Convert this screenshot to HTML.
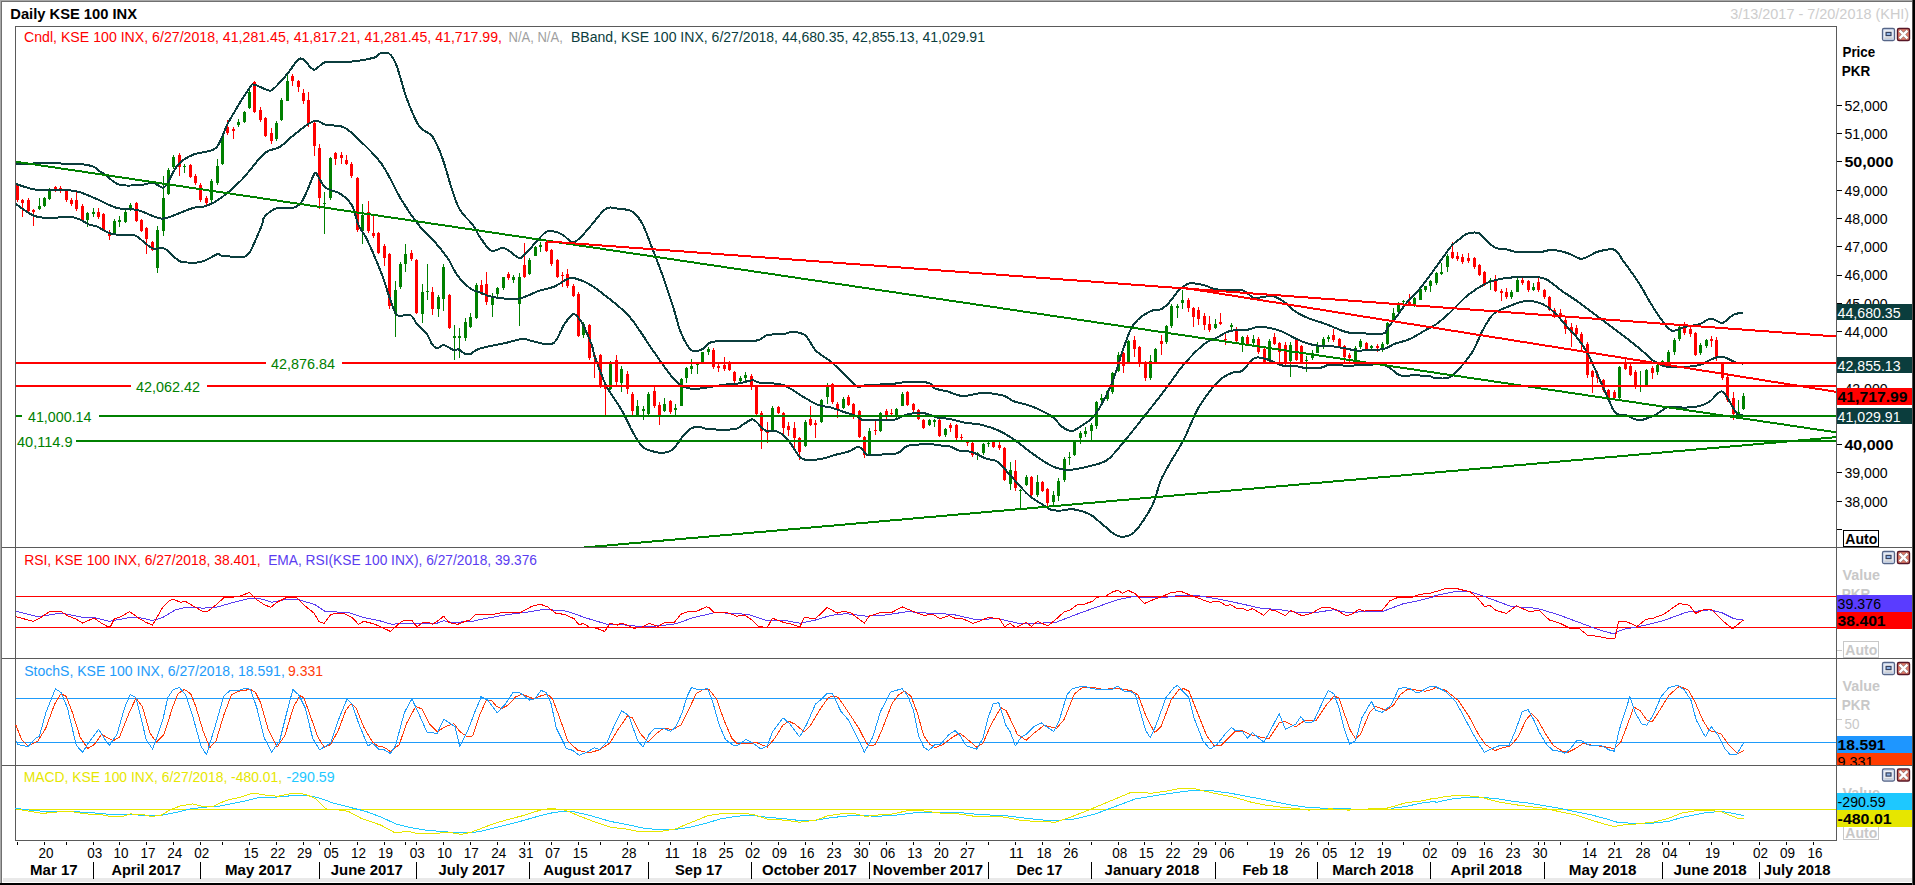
<!DOCTYPE html><html><head><meta charset="utf-8"><title>Daily KSE 100 INX</title><style>html,body{margin:0;padding:0;background:#fff;overflow:hidden}svg{display:block}</style></head><body><svg width="1915" height="885" viewBox="0 0 1915 885" font-family='"Liberation Sans", sans-serif' shape-rendering="auto">
<rect x="0" y="0" width="1915" height="885" fill="#fff" />
<rect x="0" y="0" width="1915" height="1" fill="#a8a8a8" />
<rect x="0" y="1" width="1915" height="1" fill="#707070" />
<rect x="0" y="0" width="1" height="885" fill="#a8a8a8" />
<rect x="1" y="1" width="1" height="885" fill="#707070" />
<rect x="3" y="878" width="1909" height="4" fill="#e9e9e9" />
<rect x="0" y="883" width="1915" height="2" fill="#000" />
<rect x="1912" y="0" width="1" height="885" fill="#505050" />
<rect x="1913" y="0" width="2" height="885" fill="#000" />
<defs><clipPath id="cm"><rect x="16" y="27" width="1820" height="520"/></clipPath><clipPath id="cs"><rect x="1837" y="658" width="75" height="107"/></clipPath></defs>
<g clip-path="url(#cm)">
<g shape-rendering="crispEdges">
<rect x="17" y="184" width="1" height="18" fill="#ff0000" />
<rect x="16" y="185" width="3" height="15" fill="#ff0000" />
<rect x="22" y="199" width="1" height="18" fill="#ff0000" />
<rect x="21" y="200" width="3" height="3" fill="#ff0000" />
<rect x="28" y="198" width="1" height="14" fill="#ff0000" />
<rect x="27" y="200" width="3" height="11" fill="#ff0000" />
<rect x="33" y="209" width="1" height="17" fill="#ff0000" />
<rect x="32" y="210" width="3" height="2" fill="#ff0000" />
<rect x="39" y="198" width="1" height="12" fill="#008000" />
<rect x="38" y="206" width="3" height="3" fill="#008000" />
<rect x="44" y="197" width="1" height="10" fill="#008000" />
<rect x="43" y="198" width="3" height="8" fill="#008000" />
<rect x="49" y="188" width="1" height="12" fill="#008000" />
<rect x="48" y="190" width="3" height="9" fill="#008000" />
<rect x="55" y="186" width="1" height="6" fill="#ff0000" />
<rect x="54" y="187" width="3" height="3" fill="#ff0000" />
<rect x="60" y="186" width="1" height="7" fill="#ff0000" />
<rect x="59" y="188" width="3" height="2" fill="#ff0000" />
<rect x="66" y="189" width="1" height="13" fill="#ff0000" />
<rect x="65" y="190" width="3" height="10" fill="#ff0000" />
<rect x="71" y="198" width="1" height="8" fill="#ff0000" />
<rect x="70" y="200" width="3" height="4" fill="#ff0000" />
<rect x="76" y="192" width="1" height="19" fill="#ff0000" />
<rect x="75" y="200" width="3" height="9" fill="#ff0000" />
<rect x="82" y="204" width="1" height="18" fill="#ff0000" />
<rect x="81" y="206" width="3" height="15" fill="#ff0000" />
<rect x="87" y="212" width="1" height="15" fill="#008000" />
<rect x="86" y="213" width="3" height="7" fill="#008000" />
<rect x="93" y="208" width="1" height="9" fill="#008000" />
<rect x="92" y="212" width="3" height="2" fill="#008000" />
<rect x="98" y="208" width="1" height="11" fill="#ff0000" />
<rect x="97" y="212" width="3" height="5" fill="#ff0000" />
<rect x="103" y="213" width="1" height="18" fill="#ff0000" />
<rect x="102" y="214" width="3" height="16" fill="#ff0000" />
<rect x="109" y="230" width="1" height="10" fill="#ff0000" />
<rect x="108" y="233" width="3" height="3" fill="#ff0000" />
<rect x="114" y="219" width="1" height="16" fill="#008000" />
<rect x="113" y="221" width="3" height="12" fill="#008000" />
<rect x="119" y="216" width="1" height="11" fill="#008000" />
<rect x="118" y="220" width="3" height="2" fill="#008000" />
<rect x="125" y="210" width="1" height="13" fill="#008000" />
<rect x="124" y="212" width="3" height="10" fill="#008000" />
<rect x="130" y="203" width="1" height="8" fill="#008000" />
<rect x="129" y="205" width="3" height="4" fill="#008000" />
<rect x="136" y="202" width="1" height="20" fill="#ff0000" />
<rect x="135" y="203" width="3" height="18" fill="#ff0000" />
<rect x="141" y="219" width="1" height="13" fill="#ff0000" />
<rect x="140" y="220" width="3" height="11" fill="#ff0000" />
<rect x="146" y="227" width="1" height="27" fill="#ff0000" />
<rect x="145" y="228" width="3" height="11" fill="#ff0000" />
<rect x="152" y="241" width="1" height="10" fill="#ff0000" />
<rect x="151" y="242" width="3" height="8" fill="#ff0000" />
<rect x="157" y="226" width="1" height="47" fill="#008000" />
<rect x="156" y="230" width="3" height="38" fill="#008000" />
<rect x="163" y="176" width="1" height="60" fill="#008000" />
<rect x="162" y="198" width="3" height="33" fill="#008000" />
<rect x="168" y="168" width="1" height="27" fill="#008000" />
<rect x="167" y="170" width="3" height="24" fill="#008000" />
<rect x="173" y="155" width="1" height="14" fill="#008000" />
<rect x="172" y="157" width="3" height="10" fill="#008000" />
<rect x="179" y="153" width="1" height="23" fill="#ff0000" />
<rect x="178" y="155" width="3" height="12" fill="#ff0000" />
<rect x="184" y="164" width="1" height="9" fill="#008000" />
<rect x="183" y="166" width="3" height="1" fill="#008000" />
<rect x="190" y="164" width="1" height="14" fill="#ff0000" />
<rect x="189" y="165" width="3" height="12" fill="#ff0000" />
<rect x="195" y="174" width="1" height="11" fill="#ff0000" />
<rect x="194" y="176" width="3" height="7" fill="#ff0000" />
<rect x="200" y="183" width="1" height="19" fill="#ff0000" />
<rect x="199" y="185" width="3" height="15" fill="#ff0000" />
<rect x="206" y="196" width="1" height="10" fill="#ff0000" />
<rect x="205" y="198" width="3" height="5" fill="#ff0000" />
<rect x="211" y="179" width="1" height="23" fill="#008000" />
<rect x="210" y="181" width="3" height="19" fill="#008000" />
<rect x="217" y="159" width="1" height="26" fill="#008000" />
<rect x="216" y="166" width="3" height="17" fill="#008000" />
<rect x="222" y="134" width="1" height="31" fill="#008000" />
<rect x="221" y="136" width="3" height="28" fill="#008000" />
<rect x="227" y="120" width="1" height="15" fill="#ff0000" />
<rect x="226" y="127" width="3" height="6" fill="#ff0000" />
<rect x="233" y="127" width="1" height="12" fill="#ff0000" />
<rect x="232" y="129" width="3" height="2" fill="#ff0000" />
<rect x="238" y="119" width="1" height="8" fill="#008000" />
<rect x="237" y="122" width="3" height="3" fill="#008000" />
<rect x="244" y="111" width="1" height="12" fill="#008000" />
<rect x="243" y="112" width="3" height="10" fill="#008000" />
<rect x="249" y="87" width="1" height="22" fill="#008000" />
<rect x="248" y="92" width="3" height="16" fill="#008000" />
<rect x="254" y="81" width="1" height="32" fill="#ff0000" />
<rect x="253" y="82" width="3" height="30" fill="#ff0000" />
<rect x="260" y="107" width="1" height="15" fill="#ff0000" />
<rect x="259" y="110" width="3" height="10" fill="#ff0000" />
<rect x="265" y="117" width="1" height="20" fill="#ff0000" />
<rect x="264" y="118" width="3" height="18" fill="#ff0000" />
<rect x="271" y="128" width="1" height="16" fill="#ff0000" />
<rect x="270" y="133" width="3" height="8" fill="#ff0000" />
<rect x="276" y="121" width="1" height="20" fill="#008000" />
<rect x="275" y="123" width="3" height="16" fill="#008000" />
<rect x="281" y="98" width="1" height="23" fill="#008000" />
<rect x="280" y="100" width="3" height="20" fill="#008000" />
<rect x="287" y="74" width="1" height="27" fill="#008000" />
<rect x="286" y="81" width="3" height="20" fill="#008000" />
<rect x="292" y="74" width="1" height="12" fill="#ff0000" />
<rect x="291" y="76" width="3" height="5" fill="#ff0000" />
<rect x="298" y="80" width="1" height="12" fill="#ff0000" />
<rect x="297" y="81" width="3" height="6" fill="#ff0000" />
<rect x="303" y="89" width="1" height="15" fill="#ff0000" />
<rect x="302" y="93" width="3" height="8" fill="#ff0000" />
<rect x="308" y="92" width="1" height="35" fill="#ff0000" />
<rect x="307" y="100" width="3" height="23" fill="#ff0000" />
<rect x="314" y="120" width="1" height="36" fill="#ff0000" />
<rect x="313" y="123" width="3" height="23" fill="#ff0000" />
<rect x="319" y="144" width="1" height="65" fill="#ff0000" />
<rect x="318" y="148" width="3" height="50" fill="#ff0000" />
<rect x="324" y="192" width="1" height="42" fill="#008000" />
<rect x="323" y="203" width="3" height="1" fill="#008000" />
<rect x="330" y="157" width="1" height="43" fill="#008000" />
<rect x="329" y="158" width="3" height="40" fill="#008000" />
<rect x="335" y="152" width="1" height="13" fill="#ff0000" />
<rect x="334" y="153" width="3" height="6" fill="#ff0000" />
<rect x="341" y="152" width="1" height="12" fill="#ff0000" />
<rect x="340" y="155" width="3" height="3" fill="#ff0000" />
<rect x="346" y="155" width="1" height="10" fill="#ff0000" />
<rect x="345" y="160" width="3" height="4" fill="#ff0000" />
<rect x="351" y="162" width="1" height="16" fill="#ff0000" />
<rect x="350" y="164" width="3" height="12" fill="#ff0000" />
<rect x="357" y="177" width="1" height="55" fill="#ff0000" />
<rect x="356" y="178" width="3" height="52" fill="#ff0000" />
<rect x="362" y="204" width="1" height="40" fill="#008000" />
<rect x="361" y="215" width="3" height="16" fill="#008000" />
<rect x="368" y="201" width="1" height="32" fill="#ff0000" />
<rect x="367" y="212" width="3" height="19" fill="#ff0000" />
<rect x="373" y="216" width="1" height="22" fill="#ff0000" />
<rect x="372" y="233" width="3" height="3" fill="#ff0000" />
<rect x="378" y="232" width="1" height="22" fill="#ff0000" />
<rect x="377" y="233" width="3" height="20" fill="#ff0000" />
<rect x="384" y="244" width="1" height="22" fill="#ff0000" />
<rect x="383" y="246" width="3" height="12" fill="#ff0000" />
<rect x="389" y="253" width="1" height="56" fill="#ff0000" />
<rect x="388" y="254" width="3" height="52" fill="#ff0000" />
<rect x="395" y="281" width="1" height="56" fill="#008000" />
<rect x="394" y="290" width="3" height="24" fill="#008000" />
<rect x="400" y="262" width="1" height="27" fill="#008000" />
<rect x="399" y="264" width="3" height="23" fill="#008000" />
<rect x="405" y="244" width="1" height="28" fill="#008000" />
<rect x="404" y="254" width="3" height="10" fill="#008000" />
<rect x="411" y="250" width="1" height="11" fill="#ff0000" />
<rect x="410" y="253" width="3" height="6" fill="#ff0000" />
<rect x="416" y="259" width="1" height="55" fill="#ff0000" />
<rect x="415" y="260" width="3" height="53" fill="#ff0000" />
<rect x="422" y="284" width="1" height="39" fill="#008000" />
<rect x="421" y="292" width="3" height="22" fill="#008000" />
<rect x="427" y="264" width="1" height="36" fill="#008000" />
<rect x="426" y="291" width="3" height="1" fill="#008000" />
<rect x="432" y="287" width="1" height="28" fill="#ff0000" />
<rect x="431" y="292" width="3" height="17" fill="#ff0000" />
<rect x="438" y="295" width="1" height="22" fill="#008000" />
<rect x="437" y="297" width="3" height="12" fill="#008000" />
<rect x="443" y="264" width="1" height="47" fill="#008000" />
<rect x="442" y="267" width="3" height="32" fill="#008000" />
<rect x="449" y="294" width="1" height="35" fill="#ff0000" />
<rect x="448" y="295" width="3" height="33" fill="#ff0000" />
<rect x="454" y="325" width="1" height="35" fill="#008000" />
<rect x="453" y="336" width="3" height="2" fill="#008000" />
<rect x="459" y="328" width="1" height="30" fill="#008000" />
<rect x="458" y="336" width="3" height="2" fill="#008000" />
<rect x="465" y="318" width="1" height="23" fill="#008000" />
<rect x="464" y="322" width="3" height="16" fill="#008000" />
<rect x="470" y="313" width="1" height="15" fill="#008000" />
<rect x="469" y="317" width="3" height="10" fill="#008000" />
<rect x="476" y="283" width="1" height="36" fill="#008000" />
<rect x="475" y="285" width="3" height="33" fill="#008000" />
<rect x="481" y="280" width="1" height="15" fill="#ff0000" />
<rect x="480" y="285" width="3" height="9" fill="#ff0000" />
<rect x="486" y="272" width="1" height="33" fill="#ff0000" />
<rect x="485" y="284" width="3" height="18" fill="#ff0000" />
<rect x="492" y="293" width="1" height="24" fill="#008000" />
<rect x="491" y="296" width="3" height="9" fill="#008000" />
<rect x="497" y="287" width="1" height="10" fill="#008000" />
<rect x="496" y="288" width="3" height="6" fill="#008000" />
<rect x="503" y="277" width="1" height="13" fill="#008000" />
<rect x="502" y="277" width="3" height="11" fill="#008000" />
<rect x="508" y="272" width="1" height="8" fill="#ff0000" />
<rect x="507" y="274" width="3" height="4" fill="#ff0000" />
<rect x="513" y="275" width="1" height="8" fill="#008000" />
<rect x="512" y="277" width="3" height="3" fill="#008000" />
<rect x="519" y="273" width="1" height="53" fill="#008000" />
<rect x="518" y="277" width="3" height="27" fill="#008000" />
<rect x="524" y="243" width="1" height="35" fill="#ff0000" />
<rect x="523" y="265" width="3" height="12" fill="#ff0000" />
<rect x="529" y="258" width="1" height="17" fill="#008000" />
<rect x="528" y="260" width="3" height="14" fill="#008000" />
<rect x="535" y="246" width="1" height="10" fill="#008000" />
<rect x="534" y="247" width="3" height="9" fill="#008000" />
<rect x="540" y="242" width="1" height="10" fill="#008000" />
<rect x="539" y="245" width="3" height="2" fill="#008000" />
<rect x="546" y="241" width="1" height="11" fill="#ff0000" />
<rect x="545" y="242" width="3" height="9" fill="#ff0000" />
<rect x="551" y="249" width="1" height="17" fill="#ff0000" />
<rect x="550" y="250" width="3" height="14" fill="#ff0000" />
<rect x="557" y="259" width="1" height="19" fill="#ff0000" />
<rect x="556" y="260" width="3" height="17" fill="#ff0000" />
<rect x="562" y="272" width="1" height="15" fill="#ff0000" />
<rect x="561" y="275" width="3" height="1" fill="#ff0000" />
<rect x="567" y="269" width="1" height="19" fill="#ff0000" />
<rect x="566" y="274" width="3" height="12" fill="#ff0000" />
<rect x="573" y="284" width="1" height="13" fill="#ff0000" />
<rect x="572" y="286" width="3" height="10" fill="#ff0000" />
<rect x="578" y="292" width="1" height="45" fill="#ff0000" />
<rect x="577" y="294" width="3" height="42" fill="#ff0000" />
<rect x="583" y="322" width="1" height="16" fill="#008000" />
<rect x="582" y="324" width="3" height="11" fill="#008000" />
<rect x="589" y="324" width="1" height="36" fill="#ff0000" />
<rect x="588" y="325" width="3" height="33" fill="#ff0000" />
<rect x="594" y="355" width="1" height="23" fill="#ff0000" />
<rect x="593" y="355" width="3" height="2" fill="#ff0000" />
<rect x="600" y="354" width="1" height="34" fill="#ff0000" />
<rect x="599" y="355" width="3" height="32" fill="#ff0000" />
<rect x="605" y="386" width="1" height="29" fill="#ff0000" />
<rect x="604" y="387" width="3" height="2" fill="#ff0000" />
<rect x="610" y="361" width="1" height="29" fill="#008000" />
<rect x="609" y="362" width="3" height="27" fill="#008000" />
<rect x="616" y="355" width="1" height="30" fill="#ff0000" />
<rect x="615" y="360" width="3" height="22" fill="#ff0000" />
<rect x="621" y="366" width="1" height="26" fill="#008000" />
<rect x="620" y="369" width="3" height="14" fill="#008000" />
<rect x="627" y="371" width="1" height="23" fill="#ff0000" />
<rect x="626" y="374" width="3" height="15" fill="#ff0000" />
<rect x="632" y="392" width="1" height="23" fill="#ff0000" />
<rect x="631" y="394" width="3" height="17" fill="#ff0000" />
<rect x="637" y="400" width="1" height="16" fill="#008000" />
<rect x="636" y="406" width="3" height="9" fill="#008000" />
<rect x="643" y="406" width="1" height="14" fill="#008000" />
<rect x="642" y="409" width="3" height="2" fill="#008000" />
<rect x="648" y="392" width="1" height="23" fill="#008000" />
<rect x="647" y="394" width="3" height="20" fill="#008000" />
<rect x="654" y="386" width="1" height="22" fill="#ff0000" />
<rect x="653" y="391" width="3" height="15" fill="#ff0000" />
<rect x="659" y="402" width="1" height="23" fill="#ff0000" />
<rect x="658" y="405" width="3" height="11" fill="#ff0000" />
<rect x="664" y="398" width="1" height="14" fill="#008000" />
<rect x="663" y="404" width="3" height="7" fill="#008000" />
<rect x="670" y="400" width="1" height="14" fill="#ff0000" />
<rect x="669" y="401" width="3" height="11" fill="#ff0000" />
<rect x="675" y="404" width="1" height="11" fill="#008000" />
<rect x="674" y="408" width="3" height="2" fill="#008000" />
<rect x="681" y="378" width="1" height="28" fill="#008000" />
<rect x="680" y="379" width="3" height="27" fill="#008000" />
<rect x="686" y="367" width="1" height="16" fill="#008000" />
<rect x="685" y="368" width="3" height="10" fill="#008000" />
<rect x="691" y="359" width="1" height="15" fill="#008000" />
<rect x="690" y="366" width="3" height="3" fill="#008000" />
<rect x="697" y="363" width="1" height="11" fill="#008000" />
<rect x="696" y="364" width="3" height="1" fill="#008000" />
<rect x="702" y="352" width="1" height="11" fill="#008000" />
<rect x="701" y="352" width="3" height="10" fill="#008000" />
<rect x="708" y="347" width="1" height="8" fill="#008000" />
<rect x="707" y="349" width="3" height="3" fill="#008000" />
<rect x="713" y="348" width="1" height="21" fill="#ff0000" />
<rect x="712" y="350" width="3" height="17" fill="#ff0000" />
<rect x="718" y="364" width="1" height="8" fill="#ff0000" />
<rect x="717" y="366" width="3" height="2" fill="#ff0000" />
<rect x="724" y="357" width="1" height="14" fill="#ff0000" />
<rect x="723" y="365" width="3" height="4" fill="#ff0000" />
<rect x="729" y="361" width="1" height="10" fill="#ff0000" />
<rect x="728" y="362" width="3" height="8" fill="#ff0000" />
<rect x="734" y="371" width="1" height="12" fill="#ff0000" />
<rect x="733" y="372" width="3" height="9" fill="#ff0000" />
<rect x="740" y="376" width="1" height="6" fill="#008000" />
<rect x="739" y="378" width="3" height="3" fill="#008000" />
<rect x="745" y="372" width="1" height="9" fill="#008000" />
<rect x="744" y="375" width="3" height="3" fill="#008000" />
<rect x="751" y="374" width="1" height="16" fill="#ff0000" />
<rect x="750" y="376" width="3" height="11" fill="#ff0000" />
<rect x="756" y="385" width="1" height="30" fill="#ff0000" />
<rect x="755" y="386" width="3" height="28" fill="#ff0000" />
<rect x="761" y="411" width="1" height="38" fill="#ff0000" />
<rect x="760" y="413" width="3" height="18" fill="#ff0000" />
<rect x="767" y="422" width="1" height="21" fill="#ff0000" />
<rect x="766" y="432" width="3" height="1" fill="#ff0000" />
<rect x="772" y="406" width="1" height="26" fill="#008000" />
<rect x="771" y="408" width="3" height="23" fill="#008000" />
<rect x="778" y="406" width="1" height="8" fill="#ff0000" />
<rect x="777" y="407" width="3" height="6" fill="#ff0000" />
<rect x="783" y="412" width="1" height="22" fill="#ff0000" />
<rect x="782" y="413" width="3" height="15" fill="#ff0000" />
<rect x="788" y="422" width="1" height="14" fill="#ff0000" />
<rect x="787" y="426" width="3" height="4" fill="#ff0000" />
<rect x="794" y="422" width="1" height="29" fill="#ff0000" />
<rect x="793" y="428" width="3" height="10" fill="#ff0000" />
<rect x="799" y="437" width="1" height="23" fill="#ff0000" />
<rect x="798" y="438" width="3" height="14" fill="#ff0000" />
<rect x="805" y="420" width="1" height="27" fill="#008000" />
<rect x="804" y="422" width="3" height="24" fill="#008000" />
<rect x="810" y="406" width="1" height="20" fill="#ff0000" />
<rect x="809" y="419" width="3" height="6" fill="#ff0000" />
<rect x="815" y="420" width="1" height="18" fill="#ff0000" />
<rect x="814" y="423" width="3" height="2" fill="#ff0000" />
<rect x="821" y="399" width="1" height="24" fill="#008000" />
<rect x="820" y="400" width="3" height="22" fill="#008000" />
<rect x="827" y="383" width="1" height="21" fill="#008000" />
<rect x="826" y="386" width="3" height="11" fill="#008000" />
<rect x="832" y="383" width="1" height="21" fill="#ff0000" />
<rect x="831" y="384" width="3" height="18" fill="#ff0000" />
<rect x="837" y="402" width="1" height="16" fill="#ff0000" />
<rect x="836" y="404" width="3" height="5" fill="#ff0000" />
<rect x="843" y="397" width="1" height="12" fill="#008000" />
<rect x="842" y="399" width="3" height="9" fill="#008000" />
<rect x="848" y="395" width="1" height="11" fill="#ff0000" />
<rect x="847" y="397" width="3" height="8" fill="#ff0000" />
<rect x="853" y="403" width="1" height="16" fill="#ff0000" />
<rect x="852" y="404" width="3" height="10" fill="#ff0000" />
<rect x="859" y="410" width="1" height="28" fill="#ff0000" />
<rect x="858" y="411" width="3" height="26" fill="#ff0000" />
<rect x="864" y="436" width="1" height="22" fill="#ff0000" />
<rect x="863" y="437" width="3" height="18" fill="#ff0000" />
<rect x="869" y="428" width="1" height="27" fill="#008000" />
<rect x="868" y="431" width="3" height="23" fill="#008000" />
<rect x="875" y="420" width="1" height="15" fill="#ff0000" />
<rect x="874" y="430" width="3" height="1" fill="#ff0000" />
<rect x="880" y="412" width="1" height="20" fill="#008000" />
<rect x="879" y="413" width="3" height="18" fill="#008000" />
<rect x="886" y="409" width="1" height="10" fill="#ff0000" />
<rect x="885" y="411" width="3" height="4" fill="#ff0000" />
<rect x="891" y="409" width="1" height="7" fill="#ff0000" />
<rect x="890" y="413" width="3" height="1" fill="#ff0000" />
<rect x="896" y="408" width="1" height="10" fill="#008000" />
<rect x="895" y="409" width="3" height="7" fill="#008000" />
<rect x="902" y="392" width="1" height="14" fill="#008000" />
<rect x="901" y="394" width="3" height="12" fill="#008000" />
<rect x="907" y="391" width="1" height="15" fill="#ff0000" />
<rect x="906" y="392" width="3" height="13" fill="#ff0000" />
<rect x="913" y="403" width="1" height="10" fill="#ff0000" />
<rect x="912" y="404" width="3" height="6" fill="#ff0000" />
<rect x="918" y="409" width="1" height="11" fill="#ff0000" />
<rect x="917" y="410" width="3" height="9" fill="#ff0000" />
<rect x="923" y="419" width="1" height="10" fill="#ff0000" />
<rect x="922" y="420" width="3" height="8" fill="#ff0000" />
<rect x="929" y="419" width="1" height="7" fill="#008000" />
<rect x="928" y="420" width="3" height="5" fill="#008000" />
<rect x="934" y="419" width="1" height="8" fill="#008000" />
<rect x="933" y="420" width="3" height="2" fill="#008000" />
<rect x="939" y="419" width="1" height="18" fill="#ff0000" />
<rect x="938" y="420" width="3" height="16" fill="#ff0000" />
<rect x="945" y="428" width="1" height="9" fill="#008000" />
<rect x="944" y="429" width="3" height="6" fill="#008000" />
<rect x="950" y="423" width="1" height="9" fill="#ff0000" />
<rect x="949" y="425" width="3" height="3" fill="#ff0000" />
<rect x="956" y="424" width="1" height="16" fill="#ff0000" />
<rect x="955" y="425" width="3" height="13" fill="#ff0000" />
<rect x="961" y="434" width="1" height="8" fill="#ff0000" />
<rect x="960" y="437" width="3" height="1" fill="#ff0000" />
<rect x="967" y="441" width="1" height="5" fill="#ff0000" />
<rect x="966" y="442" width="3" height="1" fill="#ff0000" />
<rect x="972" y="442" width="1" height="15" fill="#ff0000" />
<rect x="971" y="443" width="3" height="12" fill="#ff0000" />
<rect x="977" y="452" width="1" height="8" fill="#008000" />
<rect x="976" y="453" width="3" height="2" fill="#008000" />
<rect x="983" y="443" width="1" height="12" fill="#008000" />
<rect x="982" y="444" width="3" height="9" fill="#008000" />
<rect x="988" y="441" width="1" height="6" fill="#008000" />
<rect x="987" y="443" width="3" height="1" fill="#008000" />
<rect x="993" y="441" width="1" height="7" fill="#ff0000" />
<rect x="992" y="442" width="3" height="5" fill="#ff0000" />
<rect x="999" y="442" width="1" height="8" fill="#ff0000" />
<rect x="998" y="445" width="3" height="3" fill="#ff0000" />
<rect x="1004" y="447" width="1" height="34" fill="#ff0000" />
<rect x="1003" y="448" width="3" height="32" fill="#ff0000" />
<rect x="1010" y="462" width="1" height="28" fill="#008000" />
<rect x="1009" y="470" width="3" height="14" fill="#008000" />
<rect x="1015" y="460" width="1" height="31" fill="#ff0000" />
<rect x="1014" y="471" width="3" height="17" fill="#ff0000" />
<rect x="1020" y="489" width="1" height="19" fill="#008000" />
<rect x="1019" y="490" width="3" height="1" fill="#008000" />
<rect x="1026" y="475" width="1" height="11" fill="#008000" />
<rect x="1025" y="477" width="3" height="8" fill="#008000" />
<rect x="1031" y="476" width="1" height="20" fill="#ff0000" />
<rect x="1030" y="477" width="3" height="18" fill="#ff0000" />
<rect x="1037" y="475" width="1" height="22" fill="#008000" />
<rect x="1036" y="482" width="3" height="13" fill="#008000" />
<rect x="1042" y="481" width="1" height="11" fill="#ff0000" />
<rect x="1041" y="482" width="3" height="9" fill="#ff0000" />
<rect x="1047" y="488" width="1" height="18" fill="#ff0000" />
<rect x="1046" y="489" width="3" height="14" fill="#ff0000" />
<rect x="1053" y="491" width="1" height="14" fill="#008000" />
<rect x="1052" y="495" width="3" height="7" fill="#008000" />
<rect x="1058" y="478" width="1" height="23" fill="#008000" />
<rect x="1057" y="481" width="3" height="15" fill="#008000" />
<rect x="1064" y="457" width="1" height="25" fill="#008000" />
<rect x="1063" y="459" width="3" height="21" fill="#008000" />
<rect x="1069" y="452" width="1" height="13" fill="#008000" />
<rect x="1068" y="457" width="3" height="1" fill="#008000" />
<rect x="1074" y="441" width="1" height="15" fill="#008000" />
<rect x="1073" y="442" width="3" height="13" fill="#008000" />
<rect x="1080" y="431" width="1" height="13" fill="#008000" />
<rect x="1079" y="433" width="3" height="5" fill="#008000" />
<rect x="1085" y="427" width="1" height="10" fill="#008000" />
<rect x="1084" y="431" width="3" height="3" fill="#008000" />
<rect x="1091" y="423" width="1" height="17" fill="#008000" />
<rect x="1090" y="425" width="3" height="6" fill="#008000" />
<rect x="1096" y="401" width="1" height="28" fill="#008000" />
<rect x="1095" y="402" width="3" height="24" fill="#008000" />
<rect x="1101" y="394" width="1" height="12" fill="#008000" />
<rect x="1100" y="398" width="3" height="2" fill="#008000" />
<rect x="1107" y="390" width="1" height="11" fill="#008000" />
<rect x="1106" y="391" width="3" height="8" fill="#008000" />
<rect x="1112" y="372" width="1" height="22" fill="#008000" />
<rect x="1111" y="373" width="3" height="19" fill="#008000" />
<rect x="1118" y="352" width="1" height="20" fill="#008000" />
<rect x="1117" y="355" width="3" height="16" fill="#008000" />
<rect x="1123" y="352" width="1" height="21" fill="#ff0000" />
<rect x="1122" y="353" width="3" height="13" fill="#ff0000" />
<rect x="1128" y="340" width="1" height="23" fill="#008000" />
<rect x="1127" y="341" width="3" height="21" fill="#008000" />
<rect x="1134" y="336" width="1" height="21" fill="#ff0000" />
<rect x="1133" y="340" width="3" height="9" fill="#ff0000" />
<rect x="1139" y="346" width="1" height="21" fill="#ff0000" />
<rect x="1138" y="347" width="3" height="17" fill="#ff0000" />
<rect x="1145" y="361" width="1" height="20" fill="#ff0000" />
<rect x="1144" y="362" width="3" height="16" fill="#ff0000" />
<rect x="1150" y="355" width="1" height="25" fill="#008000" />
<rect x="1149" y="361" width="3" height="17" fill="#008000" />
<rect x="1155" y="348" width="1" height="15" fill="#008000" />
<rect x="1154" y="349" width="3" height="13" fill="#008000" />
<rect x="1161" y="335" width="1" height="20" fill="#ff0000" />
<rect x="1160" y="341" width="3" height="3" fill="#ff0000" />
<rect x="1166" y="325" width="1" height="19" fill="#008000" />
<rect x="1165" y="326" width="3" height="16" fill="#008000" />
<rect x="1171" y="304" width="1" height="24" fill="#008000" />
<rect x="1170" y="306" width="3" height="20" fill="#008000" />
<rect x="1177" y="304" width="1" height="14" fill="#008000" />
<rect x="1176" y="306" width="3" height="2" fill="#008000" />
<rect x="1182" y="290" width="1" height="19" fill="#008000" />
<rect x="1181" y="300" width="3" height="3" fill="#008000" />
<rect x="1188" y="298" width="1" height="14" fill="#ff0000" />
<rect x="1187" y="300" width="3" height="8" fill="#ff0000" />
<rect x="1193" y="307" width="1" height="20" fill="#ff0000" />
<rect x="1192" y="308" width="3" height="9" fill="#ff0000" />
<rect x="1198" y="307" width="1" height="18" fill="#ff0000" />
<rect x="1197" y="310" width="3" height="9" fill="#ff0000" />
<rect x="1204" y="313" width="1" height="17" fill="#ff0000" />
<rect x="1203" y="316" width="3" height="9" fill="#ff0000" />
<rect x="1209" y="316" width="1" height="16" fill="#ff0000" />
<rect x="1208" y="324" width="3" height="6" fill="#ff0000" />
<rect x="1215" y="319" width="1" height="10" fill="#008000" />
<rect x="1214" y="324" width="3" height="4" fill="#008000" />
<rect x="1220" y="313" width="1" height="12" fill="#ff0000" />
<rect x="1219" y="322" width="3" height="2" fill="#ff0000" />
<rect x="1225" y="333" width="1" height="12" fill="#ff0000" />
<rect x="1224" y="339" width="3" height="1" fill="#ff0000" />
<rect x="1231" y="323" width="1" height="7" fill="#008000" />
<rect x="1230" y="325" width="3" height="2" fill="#008000" />
<rect x="1236" y="327" width="1" height="15" fill="#ff0000" />
<rect x="1235" y="330" width="3" height="11" fill="#ff0000" />
<rect x="1242" y="336" width="1" height="16" fill="#008000" />
<rect x="1241" y="337" width="3" height="7" fill="#008000" />
<rect x="1247" y="335" width="1" height="11" fill="#ff0000" />
<rect x="1246" y="337" width="3" height="7" fill="#ff0000" />
<rect x="1253" y="335" width="1" height="10" fill="#008000" />
<rect x="1252" y="339" width="3" height="4" fill="#008000" />
<rect x="1258" y="337" width="1" height="17" fill="#ff0000" />
<rect x="1257" y="339" width="3" height="13" fill="#ff0000" />
<rect x="1264" y="348" width="1" height="15" fill="#ff0000" />
<rect x="1263" y="349" width="3" height="13" fill="#ff0000" />
<rect x="1269" y="339" width="1" height="23" fill="#008000" />
<rect x="1268" y="341" width="3" height="20" fill="#008000" />
<rect x="1274" y="333" width="1" height="12" fill="#ff0000" />
<rect x="1273" y="337" width="3" height="7" fill="#ff0000" />
<rect x="1279" y="342" width="1" height="21" fill="#ff0000" />
<rect x="1278" y="343" width="3" height="9" fill="#ff0000" />
<rect x="1285" y="342" width="1" height="23" fill="#ff0000" />
<rect x="1284" y="345" width="3" height="18" fill="#ff0000" />
<rect x="1290" y="342" width="1" height="35" fill="#008000" />
<rect x="1289" y="345" width="3" height="16" fill="#008000" />
<rect x="1296" y="338" width="1" height="23" fill="#ff0000" />
<rect x="1295" y="339" width="3" height="21" fill="#ff0000" />
<rect x="1301" y="345" width="1" height="19" fill="#ff0000" />
<rect x="1300" y="346" width="3" height="16" fill="#ff0000" />
<rect x="1306" y="356" width="1" height="16" fill="#008000" />
<rect x="1305" y="360" width="3" height="1" fill="#008000" />
<rect x="1312" y="350" width="1" height="10" fill="#008000" />
<rect x="1311" y="353" width="3" height="5" fill="#008000" />
<rect x="1317" y="342" width="1" height="11" fill="#008000" />
<rect x="1316" y="345" width="3" height="8" fill="#008000" />
<rect x="1323" y="337" width="1" height="12" fill="#008000" />
<rect x="1322" y="339" width="3" height="6" fill="#008000" />
<rect x="1328" y="335" width="1" height="7" fill="#008000" />
<rect x="1327" y="337" width="3" height="2" fill="#008000" />
<rect x="1333" y="329" width="1" height="13" fill="#ff0000" />
<rect x="1332" y="335" width="3" height="5" fill="#ff0000" />
<rect x="1339" y="338" width="1" height="10" fill="#ff0000" />
<rect x="1338" y="339" width="3" height="8" fill="#ff0000" />
<rect x="1344" y="345" width="1" height="17" fill="#ff0000" />
<rect x="1343" y="346" width="3" height="11" fill="#ff0000" />
<rect x="1349" y="353" width="1" height="9" fill="#ff0000" />
<rect x="1348" y="355" width="3" height="3" fill="#ff0000" />
<rect x="1355" y="346" width="1" height="16" fill="#008000" />
<rect x="1354" y="348" width="3" height="13" fill="#008000" />
<rect x="1360" y="339" width="1" height="10" fill="#008000" />
<rect x="1359" y="341" width="3" height="6" fill="#008000" />
<rect x="1366" y="342" width="1" height="8" fill="#ff0000" />
<rect x="1365" y="343" width="3" height="6" fill="#ff0000" />
<rect x="1371" y="345" width="1" height="5" fill="#008000" />
<rect x="1370" y="346" width="3" height="2" fill="#008000" />
<rect x="1377" y="344" width="1" height="8" fill="#ff0000" />
<rect x="1376" y="346" width="3" height="2" fill="#ff0000" />
<rect x="1382" y="342" width="1" height="10" fill="#008000" />
<rect x="1381" y="344" width="3" height="4" fill="#008000" />
<rect x="1387" y="322" width="1" height="23" fill="#008000" />
<rect x="1386" y="323" width="3" height="21" fill="#008000" />
<rect x="1393" y="308" width="1" height="14" fill="#008000" />
<rect x="1392" y="313" width="3" height="7" fill="#008000" />
<rect x="1398" y="302" width="1" height="11" fill="#008000" />
<rect x="1397" y="303" width="3" height="9" fill="#008000" />
<rect x="1403" y="300" width="1" height="4" fill="#008000" />
<rect x="1402" y="301" width="3" height="1" fill="#008000" />
<rect x="1409" y="294" width="1" height="12" fill="#ff0000" />
<rect x="1408" y="302" width="3" height="2" fill="#ff0000" />
<rect x="1414" y="297" width="1" height="10" fill="#008000" />
<rect x="1413" y="298" width="3" height="6" fill="#008000" />
<rect x="1420" y="288" width="1" height="12" fill="#008000" />
<rect x="1419" y="289" width="3" height="11" fill="#008000" />
<rect x="1425" y="286" width="1" height="6" fill="#008000" />
<rect x="1424" y="286" width="3" height="4" fill="#008000" />
<rect x="1430" y="280" width="1" height="12" fill="#008000" />
<rect x="1429" y="281" width="3" height="5" fill="#008000" />
<rect x="1436" y="272" width="1" height="13" fill="#008000" />
<rect x="1435" y="273" width="3" height="10" fill="#008000" />
<rect x="1441" y="263" width="1" height="12" fill="#008000" />
<rect x="1440" y="272" width="3" height="2" fill="#008000" />
<rect x="1447" y="254" width="1" height="18" fill="#008000" />
<rect x="1446" y="256" width="3" height="11" fill="#008000" />
<rect x="1452" y="242" width="1" height="17" fill="#ff0000" />
<rect x="1451" y="252" width="3" height="6" fill="#ff0000" />
<rect x="1457" y="252" width="1" height="9" fill="#ff0000" />
<rect x="1456" y="256" width="3" height="3" fill="#ff0000" />
<rect x="1462" y="254" width="1" height="10" fill="#ff0000" />
<rect x="1461" y="257" width="3" height="5" fill="#ff0000" />
<rect x="1468" y="253" width="1" height="10" fill="#ff0000" />
<rect x="1467" y="258" width="3" height="3" fill="#ff0000" />
<rect x="1474" y="257" width="1" height="12" fill="#ff0000" />
<rect x="1473" y="258" width="3" height="9" fill="#ff0000" />
<rect x="1479" y="264" width="1" height="12" fill="#ff0000" />
<rect x="1478" y="265" width="3" height="10" fill="#ff0000" />
<rect x="1484" y="271" width="1" height="15" fill="#ff0000" />
<rect x="1483" y="272" width="3" height="13" fill="#ff0000" />
<rect x="1490" y="278" width="1" height="12" fill="#008000" />
<rect x="1489" y="280" width="3" height="2" fill="#008000" />
<rect x="1495" y="275" width="1" height="17" fill="#ff0000" />
<rect x="1494" y="280" width="3" height="11" fill="#ff0000" />
<rect x="1501" y="289" width="1" height="12" fill="#ff0000" />
<rect x="1500" y="291" width="3" height="2" fill="#ff0000" />
<rect x="1506" y="288" width="1" height="11" fill="#ff0000" />
<rect x="1505" y="292" width="3" height="5" fill="#ff0000" />
<rect x="1511" y="290" width="1" height="9" fill="#008000" />
<rect x="1510" y="292" width="3" height="5" fill="#008000" />
<rect x="1517" y="278" width="1" height="14" fill="#008000" />
<rect x="1516" y="280" width="3" height="12" fill="#008000" />
<rect x="1522" y="277" width="1" height="8" fill="#ff0000" />
<rect x="1521" y="280" width="3" height="3" fill="#ff0000" />
<rect x="1528" y="280" width="1" height="12" fill="#ff0000" />
<rect x="1527" y="281" width="3" height="9" fill="#ff0000" />
<rect x="1533" y="283" width="1" height="8" fill="#008000" />
<rect x="1532" y="287" width="3" height="3" fill="#008000" />
<rect x="1538" y="278" width="1" height="14" fill="#ff0000" />
<rect x="1537" y="282" width="3" height="8" fill="#ff0000" />
<rect x="1544" y="289" width="1" height="10" fill="#ff0000" />
<rect x="1543" y="290" width="3" height="7" fill="#ff0000" />
<rect x="1549" y="296" width="1" height="15" fill="#ff0000" />
<rect x="1548" y="297" width="3" height="13" fill="#ff0000" />
<rect x="1554" y="308" width="1" height="10" fill="#ff0000" />
<rect x="1553" y="310" width="3" height="5" fill="#ff0000" />
<rect x="1560" y="309" width="1" height="11" fill="#ff0000" />
<rect x="1559" y="313" width="3" height="4" fill="#ff0000" />
<rect x="1565" y="318" width="1" height="16" fill="#ff0000" />
<rect x="1564" y="320" width="3" height="9" fill="#ff0000" />
<rect x="1571" y="323" width="1" height="24" fill="#ff0000" />
<rect x="1570" y="327" width="3" height="6" fill="#ff0000" />
<rect x="1576" y="325" width="1" height="11" fill="#ff0000" />
<rect x="1575" y="328" width="3" height="6" fill="#ff0000" />
<rect x="1581" y="332" width="1" height="18" fill="#ff0000" />
<rect x="1580" y="334" width="3" height="9" fill="#ff0000" />
<rect x="1587" y="342" width="1" height="36" fill="#ff0000" />
<rect x="1586" y="344" width="3" height="31" fill="#ff0000" />
<rect x="1592" y="370" width="1" height="23" fill="#ff0000" />
<rect x="1591" y="371" width="3" height="6" fill="#ff0000" />
<rect x="1597" y="371" width="1" height="12" fill="#ff0000" />
<rect x="1596" y="375" width="3" height="3" fill="#ff0000" />
<rect x="1603" y="379" width="1" height="13" fill="#ff0000" />
<rect x="1602" y="380" width="3" height="10" fill="#ff0000" />
<rect x="1608" y="389" width="1" height="10" fill="#ff0000" />
<rect x="1607" y="390" width="3" height="8" fill="#ff0000" />
<rect x="1614" y="390" width="1" height="9" fill="#ff0000" />
<rect x="1613" y="392" width="3" height="6" fill="#ff0000" />
<rect x="1619" y="366" width="1" height="33" fill="#008000" />
<rect x="1618" y="367" width="3" height="31" fill="#008000" />
<rect x="1625" y="357" width="1" height="13" fill="#ff0000" />
<rect x="1624" y="364" width="3" height="5" fill="#ff0000" />
<rect x="1630" y="364" width="1" height="12" fill="#ff0000" />
<rect x="1629" y="366" width="3" height="9" fill="#ff0000" />
<rect x="1635" y="370" width="1" height="19" fill="#ff0000" />
<rect x="1634" y="372" width="3" height="15" fill="#ff0000" />
<rect x="1640" y="371" width="1" height="21" fill="#008000" />
<rect x="1639" y="385" width="3" height="1" fill="#008000" />
<rect x="1646" y="369" width="1" height="17" fill="#008000" />
<rect x="1645" y="370" width="3" height="15" fill="#008000" />
<rect x="1652" y="366" width="1" height="13" fill="#ff0000" />
<rect x="1651" y="368" width="3" height="5" fill="#ff0000" />
<rect x="1657" y="364" width="1" height="11" fill="#008000" />
<rect x="1656" y="365" width="3" height="7" fill="#008000" />
<rect x="1662" y="360" width="1" height="5" fill="#008000" />
<rect x="1661" y="361" width="3" height="3" fill="#008000" />
<rect x="1668" y="350" width="1" height="14" fill="#008000" />
<rect x="1667" y="352" width="3" height="10" fill="#008000" />
<rect x="1674" y="338" width="1" height="17" fill="#008000" />
<rect x="1673" y="340" width="3" height="12" fill="#008000" />
<rect x="1679" y="325" width="1" height="16" fill="#008000" />
<rect x="1678" y="327" width="3" height="12" fill="#008000" />
<rect x="1684" y="322" width="1" height="13" fill="#ff0000" />
<rect x="1683" y="325" width="3" height="8" fill="#ff0000" />
<rect x="1690" y="327" width="1" height="10" fill="#ff0000" />
<rect x="1689" y="329" width="3" height="5" fill="#ff0000" />
<rect x="1695" y="332" width="1" height="24" fill="#ff0000" />
<rect x="1694" y="333" width="3" height="22" fill="#ff0000" />
<rect x="1700" y="343" width="1" height="12" fill="#008000" />
<rect x="1699" y="345" width="3" height="8" fill="#008000" />
<rect x="1706" y="339" width="1" height="9" fill="#008000" />
<rect x="1705" y="340" width="3" height="6" fill="#008000" />
<rect x="1711" y="336" width="1" height="11" fill="#ff0000" />
<rect x="1710" y="339" width="3" height="2" fill="#ff0000" />
<rect x="1716" y="337" width="1" height="24" fill="#ff0000" />
<rect x="1715" y="340" width="3" height="18" fill="#ff0000" />
<rect x="1722" y="362" width="1" height="18" fill="#ff0000" />
<rect x="1721" y="364" width="3" height="14" fill="#ff0000" />
<rect x="1727" y="374" width="1" height="28" fill="#ff0000" />
<rect x="1726" y="377" width="3" height="23" fill="#ff0000" />
<rect x="1733" y="392" width="1" height="28" fill="#ff0000" />
<rect x="1732" y="398" width="3" height="16" fill="#ff0000" />
<rect x="1738" y="400" width="1" height="16" fill="#008000" />
<rect x="1737" y="412" width="3" height="2" fill="#008000" />
<rect x="1743" y="393" width="1" height="17" fill="#008000" />
<rect x="1742" y="396" width="3" height="13" fill="#008000" />
</g>
<path d="M15.8 163.6C26.9 163.7 68.3 162.8 82.6 164.3C96.9 165.8 95.5 169.1 101.7 172.5C107.9 175.9 112.7 182.7 119.5 184.7C126.3 186.7 136.9 185.0 142.4 184.7C147.9 184.3 149.2 182.1 152.6 182.6C156.0 183.1 160.2 187.7 162.7 187.7C165.2 187.7 165.2 186.4 167.8 182.6C170.4 178.8 173.8 169.5 178.0 164.8C182.2 160.2 187.1 157.2 193.0 154.7C198.9 152.2 208.9 152.1 213.6 149.6C218.3 147.1 218.5 144.1 221.0 139.4C223.5 134.7 224.1 130.1 228.8 121.6C233.5 113.1 244.8 94.8 249.0 88.6C253.2 82.4 251.0 84.5 254.0 84.7C257.0 84.9 263.8 89.0 267.0 89.8C270.2 90.6 269.7 91.9 273.0 89.3C276.3 86.7 282.9 79.1 287.0 74.3C291.1 69.5 294.7 62.8 297.5 60.3C300.3 57.8 301.1 58.0 303.8 59.6C306.6 61.2 310.4 69.3 314.0 69.7C317.6 70.1 319.3 63.5 325.5 62.1C331.7 60.8 342.9 62.3 351.0 61.6C359.1 60.9 369.0 59.1 373.8 57.8C378.6 56.4 377.5 54.2 380.0 53.5C382.5 52.8 386.2 51.5 389.0 53.5C391.8 55.5 393.6 58.2 396.6 65.7C399.6 73.2 403.0 88.5 406.8 98.7C410.6 108.9 415.3 120.5 419.5 126.7C423.7 132.9 428.2 130.9 432.0 136.0C435.8 141.1 437.7 145.4 442.0 157.0C446.3 168.6 452.5 194.2 457.7 205.5C462.9 216.8 469.3 219.7 473.0 225.0C476.7 230.3 476.9 232.9 480.0 237.2C483.1 241.5 487.4 248.9 491.4 250.7C495.4 252.5 499.6 246.9 504.0 248.0C508.4 249.1 514.8 256.1 518.0 257.5C521.2 258.9 520.2 258.6 523.0 256.3C525.8 254.0 530.9 247.7 534.7 243.6C538.5 239.5 542.8 234.0 546.0 232.0C549.2 230.0 550.9 231.0 553.7 231.4C556.5 231.8 559.4 232.9 562.6 234.7C565.8 236.5 569.6 242.1 572.8 242.3C576.0 242.5 578.5 239.0 581.7 236.0C584.9 233.0 587.9 229.1 591.9 224.5C595.9 219.9 601.7 211.4 605.9 208.7C610.1 206.0 612.8 208.0 617.3 208.5C621.8 209.0 628.4 209.1 632.6 211.8C636.8 214.5 639.3 218.1 642.7 224.5C646.1 230.9 649.5 241.3 652.9 250.0C656.3 258.7 659.6 267.1 663.0 276.6C666.4 286.1 670.2 297.7 673.2 307.0C676.2 316.3 677.9 325.5 680.9 332.6C683.9 339.7 687.6 346.9 691.0 349.8C694.4 352.7 698.0 351.0 701.2 349.8C704.4 348.6 706.2 344.2 710.0 342.7C713.8 341.2 716.4 341.0 724.0 340.7C731.6 340.4 748.7 341.6 755.9 340.7C763.1 339.8 762.8 336.1 767.3 335.0C771.8 333.9 778.4 334.8 782.6 334.3C786.8 333.8 788.9 331.6 792.7 331.8C796.5 332.0 801.7 332.5 805.5 335.6C809.3 338.7 811.4 346.0 815.6 350.4C819.8 354.8 825.8 357.6 830.9 361.8C836.0 366.0 841.8 371.8 846.0 375.8C850.2 379.8 853.7 384.2 856.3 386.0C858.9 387.8 859.7 386.7 861.4 386.5C863.1 386.3 864.0 385.0 866.5 384.7C869.0 384.4 871.5 384.9 876.6 384.7C881.7 384.5 892.3 383.8 897.0 383.4C901.7 382.9 901.2 382.3 904.6 382.0C908.0 381.7 913.1 381.4 917.3 381.6C921.5 381.8 927.0 382.2 930.0 383.4C933.0 384.5 932.0 387.1 935.0 388.5C938.0 389.9 943.2 390.2 947.8 391.5C952.4 392.8 956.8 395.8 962.7 396.0C968.6 396.2 976.2 393.1 983.0 393.0C989.8 392.9 998.3 394.2 1003.4 395.6C1008.5 397.0 1008.9 399.4 1013.6 401.2C1018.3 403.0 1025.1 403.8 1031.4 406.3C1037.8 408.8 1046.6 413.0 1051.7 416.4C1056.8 419.8 1058.7 424.2 1061.9 426.6C1065.1 429.0 1068.3 430.6 1070.8 431.0C1073.3 431.4 1073.4 430.9 1077.0 428.7C1080.6 426.5 1088.1 422.1 1092.4 417.7C1096.7 413.3 1099.2 408.6 1102.6 402.5C1106.0 396.4 1109.3 389.8 1112.7 381.0C1116.1 372.2 1119.9 358.5 1122.9 350.0C1125.9 341.5 1128.0 334.9 1130.5 329.8C1133.0 324.7 1134.6 322.6 1138.0 319.5C1141.4 316.4 1147.1 312.7 1150.9 311.0C1154.7 309.3 1158.0 310.6 1161.0 309.3C1164.0 308.0 1165.7 306.2 1168.7 303.0C1171.7 299.8 1175.6 293.5 1178.8 290.3C1182.0 287.1 1185.2 285.0 1187.7 283.9C1190.2 282.8 1191.2 283.2 1194.0 283.4C1196.8 283.6 1200.9 284.3 1204.3 285.2C1207.7 286.1 1211.0 288.2 1214.4 289.0C1217.8 289.8 1219.9 289.6 1224.6 289.8C1229.3 290.0 1237.5 289.0 1242.4 290.3C1247.3 291.6 1250.0 296.8 1253.8 297.9C1257.6 298.9 1261.9 296.8 1265.3 296.6C1268.7 296.4 1270.8 295.5 1274.2 296.6C1277.6 297.7 1282.0 300.4 1285.6 303.0C1289.2 305.6 1292.0 309.4 1295.8 311.9C1299.6 314.4 1303.8 316.3 1308.5 318.2C1313.2 320.1 1319.1 321.6 1323.8 323.3C1328.5 325.0 1332.7 326.9 1336.5 328.4C1340.3 329.9 1343.2 331.4 1346.6 332.2C1350.0 333.0 1350.7 332.8 1356.8 333.0C1362.9 333.2 1377.8 334.6 1383.0 333.6C1388.2 332.6 1386.1 329.3 1388.0 327.0C1389.9 324.7 1391.2 323.8 1394.3 319.8C1397.4 315.8 1402.1 308.3 1406.5 302.9C1410.9 297.5 1416.2 293.0 1420.7 287.6C1425.2 282.2 1429.5 276.1 1433.4 270.7C1437.4 265.3 1441.3 259.6 1444.4 255.4C1447.5 251.2 1449.5 248.1 1452.0 245.3C1454.5 242.6 1457.0 240.9 1459.7 238.9C1462.4 236.9 1464.8 234.3 1468.1 233.4C1471.3 232.5 1476.1 232.1 1479.2 233.4C1482.3 234.7 1484.0 238.6 1486.8 241.0C1489.5 243.4 1492.5 246.4 1495.7 247.8C1499.0 249.2 1502.7 248.6 1506.3 249.3C1509.9 250.0 1511.7 251.6 1517.3 252.0C1522.9 252.4 1534.2 252.3 1540.0 252.0C1545.8 251.7 1547.5 249.7 1552.0 249.9C1556.5 250.1 1562.5 251.6 1567.2 253.0C1571.9 254.4 1576.5 258.0 1579.9 258.6C1583.3 259.2 1584.6 258.0 1587.6 256.8C1590.6 255.7 1593.2 252.9 1597.7 251.7C1602.2 250.5 1610.1 248.2 1614.3 249.7C1618.5 251.2 1619.0 255.2 1623.0 260.6C1627.0 266.0 1633.7 275.0 1638.4 282.2C1643.1 289.4 1646.8 297.0 1651.0 303.8C1655.2 310.6 1660.4 318.4 1663.8 322.9C1667.2 327.3 1669.0 329.4 1671.5 330.5C1674.0 331.6 1676.7 329.8 1679.0 329.2C1681.3 328.6 1682.0 327.5 1685.4 326.7C1688.8 325.9 1695.2 325.5 1699.4 324.2C1703.7 322.9 1707.1 318.8 1710.9 318.6C1714.7 318.4 1718.7 323.4 1722.3 322.9C1725.9 322.3 1729.8 316.9 1732.5 315.3C1735.2 313.7 1737.0 313.6 1738.8 313.2C1740.6 312.8 1742.6 313.2 1743.4 313.2" fill="none" stroke="#0b3d3d" stroke-width="2" stroke-linejoin="round" shape-rendering="crispEdges"/>
<path d="M15.8 184.0C19.5 185.0 28.4 188.9 38.0 190.0C47.6 191.1 63.9 189.3 73.7 190.8C83.5 192.3 89.4 196.1 96.6 199.0C103.8 201.9 110.3 206.2 117.0 208.0C123.7 209.8 130.2 208.4 137.0 210.0C143.8 211.6 152.5 216.4 157.6 217.7C162.7 218.9 161.9 219.1 167.8 217.5C173.7 215.9 186.6 209.9 193.0 208.0C199.4 206.1 201.3 207.7 206.0 206.0C210.7 204.3 215.1 202.3 221.0 198.0C226.9 193.7 234.3 187.4 241.5 180.0C248.7 172.6 258.0 158.9 264.4 153.4C270.8 147.9 274.6 150.2 279.7 147.0C284.8 143.8 289.3 138.3 295.0 134.0C300.7 129.7 308.9 122.5 314.0 121.0C319.1 119.5 320.7 123.7 325.5 124.7C330.3 125.7 337.9 125.0 343.0 127.0C348.1 129.1 349.6 130.9 356.0 137.0C362.4 143.1 373.8 153.0 381.4 163.6C389.0 174.2 395.3 190.0 401.7 200.4C408.1 210.8 414.4 219.6 419.5 226.0C424.6 232.4 427.5 233.7 432.2 239.0C436.9 244.3 443.2 251.8 447.5 258.0C451.8 264.1 453.9 270.8 457.7 275.9C461.5 281.0 466.7 285.8 470.4 288.6C474.1 291.4 476.3 291.1 480.0 292.5C483.7 293.9 486.4 296.0 492.7 297.0C499.0 298.0 510.4 299.7 518.0 298.7C525.6 297.7 532.5 293.0 538.5 291.0C544.5 289.0 548.8 288.8 553.7 286.8C558.6 284.8 564.1 280.4 567.7 279.0C571.3 277.6 571.7 277.5 575.3 278.4C578.9 279.3 584.0 281.1 589.3 284.2C594.6 287.3 600.2 291.5 607.0 297.0C613.8 302.5 622.4 308.4 630.0 317.3C637.6 326.2 645.7 340.2 652.9 350.4C660.1 360.6 668.1 372.3 673.2 378.3C678.3 384.3 680.0 384.7 683.4 386.5C686.8 388.3 690.2 388.8 693.6 389.0C697.0 389.2 698.6 388.7 703.7 388.0C708.8 387.3 718.1 385.5 724.0 384.7C729.9 383.9 734.6 384.1 739.3 383.4C744.0 382.7 748.6 380.4 752.0 380.3C755.4 380.2 755.0 382.0 759.7 382.6C764.4 383.2 774.9 383.2 780.0 384.2C785.1 385.2 786.4 386.4 790.2 388.5C794.0 390.6 798.2 393.9 802.9 396.6C807.6 399.4 813.5 403.2 818.2 405.0C822.9 406.8 826.7 406.4 830.9 407.5C835.1 408.6 839.4 410.5 843.6 411.9C847.8 413.3 853.3 414.6 856.3 415.9C859.3 417.2 858.0 418.8 861.4 419.5C864.8 420.2 871.1 420.2 876.6 420.3C882.1 420.4 889.3 420.8 894.4 419.8C899.5 418.8 901.9 415.5 907.0 414.4C912.1 413.3 919.9 412.8 925.0 413.4C930.1 413.9 933.5 416.8 937.7 417.7C941.9 418.6 945.4 418.1 950.0 419.0C954.6 419.9 960.2 421.9 965.3 422.8C970.4 423.7 975.0 423.3 980.5 424.6C986.0 425.9 992.8 427.9 998.3 430.4C1003.8 432.8 1007.7 435.3 1013.6 439.3C1019.5 443.3 1027.6 450.2 1033.9 454.6C1040.2 459.1 1046.6 463.5 1051.7 466.0C1056.8 468.5 1060.6 469.2 1064.4 469.8C1068.2 470.4 1069.9 470.0 1074.6 469.3C1079.3 468.6 1086.9 467.1 1092.4 465.5C1097.9 463.9 1102.5 463.4 1107.6 459.7C1112.7 455.9 1117.0 450.0 1122.9 443.0C1128.8 436.0 1136.0 426.8 1143.2 417.7C1150.4 408.6 1159.2 397.4 1166.0 388.5C1172.8 379.6 1177.5 371.7 1183.9 364.3C1190.3 356.9 1198.8 348.4 1204.3 344.0C1209.8 339.6 1212.8 339.8 1217.0 337.6C1221.2 335.4 1224.6 332.3 1229.7 331.0C1234.8 329.7 1242.8 330.4 1247.5 329.7C1252.2 329.0 1254.2 327.4 1257.6 327.0C1261.0 326.6 1264.0 326.9 1267.8 327.6C1271.6 328.3 1275.8 329.2 1280.5 331.0C1285.2 332.8 1291.5 336.6 1295.8 338.6C1300.0 340.6 1302.6 341.8 1306.0 342.9C1309.4 344.0 1311.8 344.8 1316.0 345.4C1320.2 345.9 1326.7 345.7 1331.4 346.2C1336.1 346.7 1339.8 347.5 1344.0 348.2C1348.2 348.9 1352.1 350.2 1356.8 350.5C1361.5 350.8 1367.3 350.3 1372.0 350.0C1376.7 349.7 1381.0 349.8 1384.8 348.7C1388.6 347.6 1390.8 345.3 1395.0 343.7C1399.2 342.1 1404.9 341.3 1410.0 339.0C1415.1 336.7 1421.2 332.5 1425.5 330.1C1429.8 327.7 1431.9 327.3 1436.0 324.4C1440.1 321.5 1444.7 317.4 1450.0 312.5C1455.3 307.6 1462.0 299.8 1468.0 295.0C1474.0 290.2 1480.4 286.2 1485.9 283.5C1491.4 280.8 1495.5 280.0 1501.0 278.9C1506.5 277.8 1513.0 277.3 1518.9 277.0C1524.9 276.7 1532.0 276.6 1536.7 277.0C1541.4 277.4 1542.7 277.4 1546.9 279.7C1551.1 282.0 1556.9 287.4 1562.0 291.0C1567.1 294.6 1572.3 297.7 1577.4 301.3C1582.5 304.9 1586.7 308.2 1592.6 312.7C1598.5 317.1 1607.1 323.6 1613.0 328.0C1618.9 332.4 1623.1 335.4 1628.2 339.4C1633.3 343.4 1639.2 348.4 1643.5 352.0C1647.8 355.6 1650.3 358.7 1653.7 361.0C1657.1 363.3 1660.4 364.9 1663.8 366.0C1667.2 367.1 1669.8 367.3 1674.0 367.4C1678.2 367.5 1684.6 367.1 1689.3 366.6C1694.0 366.1 1698.2 365.6 1702.0 364.3C1705.8 363.0 1708.8 360.3 1712.0 359.0C1715.2 357.7 1718.4 356.8 1721.0 356.7C1723.6 356.6 1724.9 357.5 1727.4 358.5C1730.0 359.5 1733.6 361.9 1736.3 362.8C1739.0 363.7 1742.2 363.5 1743.4 363.6" fill="none" stroke="#0b3d3d" stroke-width="2" stroke-linejoin="round" shape-rendering="crispEdges"/>
<path d="M15.8 204.0C19.5 206.2 28.4 214.8 38.0 217.0C47.6 219.2 65.2 216.2 73.7 217.5C82.2 218.8 85.2 223.1 89.0 224.6C92.8 226.1 92.8 224.7 96.6 226.3C100.4 227.9 106.1 232.6 112.0 234.0C117.9 235.4 127.6 234.1 132.0 234.7C136.4 235.3 135.2 235.4 138.6 237.7C142.0 240.0 148.4 246.6 152.6 248.4C156.8 250.2 160.2 246.8 164.0 248.4C167.8 250.0 172.4 255.8 175.4 258.0C178.4 260.2 177.6 261.2 181.8 261.9C186.1 262.5 195.0 263.2 200.9 261.9C206.8 260.6 214.0 255.3 217.4 254.2C220.8 253.1 218.4 255.1 221.2 255.5C224.0 255.9 230.2 256.6 234.0 256.8C237.8 257.0 241.3 257.8 244.0 256.8C246.7 255.8 247.4 256.3 250.4 251.0C253.4 245.7 259.6 230.7 261.9 225.0C264.2 219.3 261.9 219.8 264.4 217.0C266.9 214.2 272.3 209.5 277.0 208.0C281.7 206.5 288.1 209.3 292.4 208.0C296.7 206.7 299.0 206.0 302.6 200.4C306.2 194.8 311.5 178.6 314.0 174.5C316.5 170.4 315.9 173.8 317.8 176.0C319.7 178.2 321.7 184.7 325.5 187.7C329.3 190.7 336.3 191.0 340.7 194.0C345.1 197.0 349.0 200.3 352.0 205.5C355.0 210.7 355.9 219.2 358.5 225.0C361.1 230.8 363.6 232.2 367.4 240.3C371.2 248.4 377.8 264.0 381.4 273.3C385.0 282.6 386.7 289.4 389.0 296.0C391.3 302.6 393.7 309.4 395.4 312.7C397.1 316.0 396.7 315.4 399.2 315.8C401.7 316.2 407.6 313.9 410.6 315.3C413.6 316.7 414.3 320.8 417.0 324.0C419.7 327.2 424.5 330.9 427.0 334.3C429.5 337.7 430.5 342.2 432.2 344.5C433.9 346.8 435.4 348.2 437.3 348.3C439.2 348.4 441.1 344.8 443.7 345.0C446.2 345.2 450.1 348.8 452.6 349.6C455.2 350.4 456.9 348.9 459.0 349.6C461.1 350.3 463.4 353.3 465.3 354.0C467.2 354.7 467.9 354.9 470.4 354.0C472.8 353.1 474.2 350.3 480.0 348.5C485.8 346.7 498.2 344.6 505.4 343.0C512.6 341.4 518.6 339.2 523.0 338.9C527.4 338.6 527.2 340.1 532.0 341.0C536.8 341.9 547.1 345.8 552.0 344.0C556.9 342.2 559.4 333.2 561.4 330.0C563.4 326.8 561.9 327.6 563.9 324.9C565.9 322.2 570.6 314.4 573.6 314.0C576.6 313.6 579.7 319.7 581.7 322.4C583.7 325.1 583.8 326.2 585.5 330.0C587.2 333.8 590.4 341.1 591.9 345.3C593.4 349.5 592.7 350.3 594.4 355.4C596.1 360.5 599.9 370.5 602.0 375.8C604.1 381.1 603.6 381.3 607.0 387.2C610.4 393.1 618.1 404.0 622.4 411.4C626.7 418.8 629.2 425.8 632.6 431.7C636.0 437.6 638.9 443.6 642.7 447.0C646.5 450.4 652.0 451.0 655.4 452.0C658.8 453.0 660.5 453.0 663.0 452.8C665.5 452.6 668.4 452.2 670.7 450.8C673.0 449.4 674.9 446.9 677.0 444.4C679.1 441.8 680.9 438.2 683.4 435.5C685.9 432.8 689.3 429.2 692.3 427.9C695.3 426.5 698.5 427.2 701.2 427.4C704.0 427.6 703.3 428.9 708.8 429.2C714.3 429.5 728.8 429.8 734.3 429.2C739.8 428.6 739.0 426.9 741.9 425.3C744.8 423.7 749.2 420.1 751.5 419.5C753.8 418.9 754.1 420.1 755.9 421.5C757.7 422.9 760.3 426.3 762.2 427.9C764.1 429.5 764.8 430.6 767.3 431.2C769.8 431.8 774.1 430.3 777.5 431.7C780.9 433.1 784.6 436.1 787.6 439.3C790.6 442.5 793.0 447.6 795.3 450.8C797.6 454.0 799.1 456.8 801.6 458.4C804.1 460.0 806.9 460.2 810.5 460.2C814.1 460.2 819.0 459.3 823.3 458.4C827.5 457.5 831.8 455.8 836.0 454.6C840.2 453.5 845.3 452.7 848.7 451.5C852.1 450.3 854.2 448.1 856.3 447.5C858.4 446.9 859.7 447.0 861.4 448.2C863.1 449.4 864.0 453.5 866.5 454.6C869.0 455.7 871.5 454.8 876.6 454.6C881.7 454.4 891.7 454.8 897.0 453.3C902.3 451.8 902.5 447.2 908.4 445.7C914.3 444.2 926.5 444.3 932.6 444.4C938.8 444.5 942.4 446.1 945.3 446.4C948.2 446.7 947.5 445.7 950.0 446.4C952.5 447.1 956.4 449.9 960.0 450.8C963.6 451.7 967.3 450.7 971.6 452.0C975.9 453.3 981.2 456.7 985.6 458.4C990.0 460.1 994.1 459.2 998.3 462.2C1002.5 465.2 1005.9 470.7 1011.0 476.2C1016.1 481.7 1023.3 490.4 1028.8 495.3C1034.3 500.2 1040.2 502.9 1044.0 505.4C1047.8 507.8 1048.7 509.1 1051.7 510.0C1054.7 510.9 1058.3 510.6 1061.9 510.5C1065.5 510.4 1068.7 508.7 1073.3 509.3C1077.9 509.9 1084.9 511.8 1089.8 514.3C1094.7 516.8 1097.9 520.9 1102.6 524.5C1107.3 528.1 1112.9 534.4 1117.8 536.0C1122.7 537.6 1127.6 536.8 1131.8 534.2C1136.0 531.7 1139.6 525.9 1143.2 520.7C1146.8 515.5 1150.4 509.7 1153.4 502.9C1156.4 496.1 1158.0 487.0 1161.0 480.0C1164.0 473.0 1167.4 467.8 1171.2 461.0C1175.0 454.2 1179.5 448.0 1183.9 439.3C1188.4 430.6 1193.2 417.3 1197.9 408.8C1202.6 400.3 1207.9 393.6 1211.9 388.5C1215.9 383.4 1218.6 380.9 1222.0 378.3C1225.4 375.7 1228.8 374.0 1232.2 372.7C1235.6 371.4 1239.0 372.9 1242.4 370.7C1245.8 368.4 1249.8 361.4 1252.6 359.2C1255.3 357.0 1255.9 357.3 1258.9 357.5C1261.9 357.7 1266.4 359.1 1270.4 360.5C1274.4 361.9 1279.2 364.8 1283.0 365.6C1286.8 366.5 1289.4 365.2 1293.2 365.6C1297.0 366.0 1301.3 367.7 1306.0 368.0C1310.7 368.3 1317.4 368.1 1321.2 367.6C1325.0 367.1 1324.6 365.3 1328.8 365.0C1333.0 364.7 1339.8 365.6 1346.6 365.6C1353.4 365.6 1364.0 365.3 1369.5 365.0C1375.0 364.7 1376.3 363.3 1379.7 363.8C1383.1 364.3 1386.5 366.1 1389.9 368.0C1393.3 369.9 1395.8 374.1 1400.0 375.3C1404.2 376.5 1410.3 375.1 1415.3 375.3C1420.3 375.5 1426.7 375.9 1430.0 376.3C1433.3 376.8 1431.8 377.8 1435.0 378.0C1438.2 378.2 1444.8 379.4 1449.0 377.6C1453.2 375.8 1456.4 371.8 1460.4 367.4C1464.4 362.9 1469.2 357.3 1473.0 350.9C1476.8 344.5 1479.9 335.3 1483.3 329.2C1486.7 323.1 1489.3 317.8 1493.5 314.0C1497.7 310.2 1503.6 308.5 1508.7 306.4C1513.8 304.3 1519.3 302.0 1524.0 301.3C1528.7 300.6 1532.9 301.1 1536.7 302.0C1540.5 302.9 1543.5 304.2 1546.9 306.4C1550.3 308.6 1553.6 311.9 1557.0 315.3C1560.4 318.7 1563.8 322.9 1567.2 326.7C1570.6 330.5 1574.0 333.6 1577.4 338.0C1580.8 342.4 1584.2 347.2 1587.6 353.4C1591.0 359.6 1594.3 367.6 1597.7 375.0C1601.1 382.4 1604.9 391.6 1607.9 397.9C1610.9 404.2 1612.5 410.1 1615.5 413.0C1618.5 415.9 1622.3 414.1 1625.7 415.2C1629.1 416.3 1632.9 418.8 1635.9 419.5C1638.9 420.2 1640.1 420.4 1643.5 419.5C1646.9 418.6 1652.0 416.5 1656.2 414.4C1660.4 412.3 1664.2 407.9 1668.9 406.8C1673.6 405.7 1679.1 407.7 1684.2 407.6C1689.3 407.5 1695.2 407.0 1699.4 406.0C1703.6 405.0 1706.6 403.7 1709.6 401.7C1712.6 399.7 1715.1 395.7 1717.2 394.0C1719.3 392.3 1720.6 390.9 1722.3 391.5C1724.0 392.1 1724.9 394.1 1727.4 397.9C1730.0 401.7 1734.9 411.6 1737.6 414.4C1740.3 417.1 1742.4 414.4 1743.4 414.4" fill="none" stroke="#0b3d3d" stroke-width="2" stroke-linejoin="round" shape-rendering="crispEdges"/>
<polygon points="15,160.6 1838,431.6 1838,433.6 15,162.6" fill="#008000" shape-rendering="crispEdges"/>
<polygon points="583,546.6 1838,436 1838,438 583,548.6" fill="#008000" shape-rendering="crispEdges"/>
<polygon points="546.5,240.4 1838,335.6 1838,337.6 546.5,242.4" fill="#ff0000" shape-rendering="crispEdges"/>
<polygon points="1182.6,286.7 1838,391.1 1838,393.1 1182.6,288.7" fill="#ff0000" shape-rendering="crispEdges"/>
<g shape-rendering="crispEdges">
<rect x="15" y="362" width="250.5" height="2" fill="#ff0000" />
<rect x="342" y="362" width="1496" height="2" fill="#ff0000" />
<rect x="15" y="385" width="116" height="2" fill="#ff0000" />
<rect x="206.5" y="385" width="1632" height="2" fill="#ff0000" />
<rect x="15" y="415" width="7.4" height="2" fill="#008000" />
<rect x="98.6" y="415" width="1740" height="2" fill="#008000" />
<rect x="76.3" y="440" width="1762" height="2" fill="#008000" />
</g>
</g>
<text x="271" y="369" font-size="14" fill="#008000" font-weight="normal" text-anchor="start" textLength="64" lengthAdjust="spacingAndGlyphs" >42,876.84</text>
<text x="136" y="392" font-size="14" fill="#008000" font-weight="normal" text-anchor="start" textLength="64" lengthAdjust="spacingAndGlyphs" >42,062.42</text>
<text x="28" y="422" font-size="14" fill="#008000" font-weight="normal" text-anchor="start" textLength="63.5" lengthAdjust="spacingAndGlyphs" >41,000.14</text>
<text x="17" y="447" font-size="14" fill="#008000" font-weight="normal" text-anchor="start" textLength="55.5" lengthAdjust="spacingAndGlyphs" >40,114.9</text>
<g shape-rendering="crispEdges">
<rect x="15" y="26" width="1822" height="1" fill="#5a5a5a" />
<rect x="15" y="26" width="1" height="815" fill="#5a5a5a" />
<rect x="1836" y="26" width="1" height="815" fill="#5a5a5a" />
<rect x="2" y="547" width="1910" height="1" fill="#5a5a5a" />
<rect x="2" y="658" width="1910" height="1" fill="#5a5a5a" />
<rect x="2" y="765" width="1910" height="1" fill="#5a5a5a" />
<rect x="15" y="840" width="1822" height="1" fill="#5a5a5a" />
</g>
<g shape-rendering="crispEdges">
<rect x="16" y="596" width="1820" height="1" fill="#ff0000" />
<rect x="16" y="627" width="1820" height="1" fill="#ff0000" />
<rect x="16" y="698" width="1820" height="1" fill="#1e9bfa" />
<rect x="16" y="742" width="1820" height="1" fill="#1e9bfa" />
<rect x="16" y="809" width="1820" height="1" fill="#e6e600" />
</g>
<polyline points="15.8,611.1 38.1,616.7 61.0,613.1 83.9,617.5 94.1,617.5 109.3,621.3 129.7,617.5 138.6,617.5 152.6,620.5 162.7,617.5 175.4,609.8 185.6,607.3 203.4,608.1 216.1,607.3 233.9,602.2 249.2,598.4 259.3,598.4 272.1,602.2 284.8,599.7 297.5,599.2 315.3,604.8 325.5,611.6 348.3,612.4 363.6,617.5 378.8,620.5 391.6,624.3 406.8,623.1 437.3,623.1 443.7,620.8 452.6,622.5 472.9,621.3 480.0,619.5 505.4,614.9 530.9,611.6 543.6,609.3 566.4,611.1 586.8,618.2 607.1,624.3 627.5,625.1 642.7,626.9 658.0,625.9 675.8,623.8 693.6,617.5 713.9,612.9 734.3,613.1 749.5,614.9 764.8,620.0 785.1,620.5 800.4,623.3 815.6,620.0 830.9,615.4 846.1,613.6 866.5,616.2 886.8,614.9 907.2,611.6 927.5,613.1 950.4,614.2 955.0,614.9 975.3,619.5 998.2,618.7 1018.6,623.3 1038.9,623.3 1056.7,622.0 1077.0,614.2 1097.4,606.8 1117.7,599.7 1133.0,596.6 1148.2,597.9 1163.5,597.6 1181.3,595.1 1199.1,595.9 1219.4,599.2 1239.8,603.5 1260.1,608.1 1280.5,609.8 1300.8,612.9 1316.0,612.4 1333.8,609.8 1349.1,612.9 1366.9,611.1 1382.2,611.6 1402.5,604.0 1422.8,599.7 1434.3,596.6 1435.0,595.6 1452.8,592.0 1470.6,591.8 1485.9,597.1 1511.3,606.5 1536.7,608.3 1557.0,614.2 1577.4,621.8 1597.7,629.4 1613.0,633.7 1623.2,629.4 1643.5,625.6 1663.8,620.5 1686.7,612.1 1709.6,609.8 1722.3,612.9 1733.8,618.7 1743.4,619.8" fill="none" stroke="#5a3cf0" stroke-width="1" stroke-linejoin="round" shape-rendering="crispEdges"/>
<polyline points="15.8,616.7 33.1,621.3 40.7,617.5 49.6,611.6 61.0,611.6 68.6,616.2 76.3,619.2 82.6,623.1 94.1,618.0 100.4,622.5 108.1,626.9 110.6,626.4 114.4,618.7 119.5,617.5 129.7,611.6 138.6,618.0 146.2,622.5 152.6,625.1 162.7,607.3 169.1,600.9 172.9,599.2 180.5,602.2 185.6,601.4 193.2,606.0 203.4,611.9 207.2,611.9 216.1,604.8 223.7,597.9 239.0,596.6 249.2,592.5 251.7,594.6 256.8,599.7 264.4,604.8 270.8,607.3 277.1,602.2 287.3,597.1 296.2,597.1 305.1,606.0 314.0,613.1 319.1,621.8 324.2,623.3 330.5,614.9 335.6,613.1 343.2,613.1 352.1,617.5 358.5,624.3 363.6,621.3 373.8,623.8 381.4,627.1 390.3,631.4 401.7,621.3 406.8,620.0 411.9,620.5 417.0,626.9 423.3,622.0 428.4,622.0 432.2,624.3 437.3,621.3 443.7,616.2 448.8,622.5 457.7,624.3 465.3,621.3 470.4,620.0 475.5,614.2 480.0,614.9 490.2,614.9 502.9,612.4 520.7,612.4 530.9,606.8 539.8,604.0 547.4,606.8 556.3,613.6 563.9,614.2 574.1,618.7 579.2,625.1 583.0,623.3 589.3,627.1 597.0,628.4 604.6,631.4 610.2,623.3 617.3,625.1 621.1,623.3 627.5,625.1 633.8,628.4 642.7,626.9 649.1,623.3 658.0,626.4 665.6,622.0 674.5,622.0 680.9,614.2 688.5,611.6 696.1,611.6 706.3,606.8 708.8,607.3 713.9,612.4 726.6,612.4 736.8,616.2 744.4,614.9 752.1,620.0 758.4,626.4 767.3,627.6 772.4,618.2 783.8,622.5 790.2,623.8 799.9,626.9 804.2,617.5 815.6,618.7 827.1,607.3 837.2,613.1 843.6,611.1 851.2,613.1 864.4,623.3 869.0,616.2 880.5,612.4 891.9,612.4 902.1,606.8 912.2,611.1 923.7,615.4 932.6,614.2 940.2,618.7 949.1,615.7 955.0,618.2 955.0,618.2 962.6,618.7 972.8,623.3 980.4,620.8 988.1,617.5 999.5,618.7 1004.6,626.9 1009.7,623.3 1016.0,627.6 1026.2,622.5 1031.3,626.4 1037.6,621.3 1047.8,625.9 1056.7,618.7 1064.3,611.6 1069.4,610.6 1077.0,604.8 1084.7,604.0 1092.3,601.4 1097.4,597.1 1105.0,596.6 1112.6,592.0 1117.7,590.3 1122.8,593.3 1127.9,590.3 1135.5,593.8 1144.4,603.5 1153.3,599.7 1160.9,597.1 1171.1,592.5 1181.3,591.5 1188.9,594.6 1199.1,598.4 1209.3,602.2 1219.4,601.4 1225.8,605.5 1230.9,604.8 1237.2,608.6 1242.3,608.1 1247.4,610.6 1252.5,608.6 1263.9,615.4 1269.0,609.8 1275.4,610.6 1285.5,615.7 1290.6,610.6 1302.1,615.7 1311.0,613.6 1321.1,607.8 1328.8,607.3 1336.4,609.8 1345.3,615.4 1350.4,614.9 1359.3,609.3 1364.4,611.1 1372.0,610.3 1382.2,610.3 1389.8,600.9 1397.4,597.6 1405.0,597.1 1410.1,597.9 1420.3,594.1 1427.9,593.8 1434.3,592.0 1435.0,591.8 1447.7,588.0 1455.3,588.2 1470.6,592.0 1478.2,598.9 1484.6,606.5 1489.7,605.3 1496.0,610.4 1506.2,613.4 1516.4,605.8 1529.1,611.6 1539.2,610.4 1549.4,620.0 1559.6,623.1 1569.8,628.2 1578.7,628.2 1587.6,635.3 1597.7,636.3 1607.9,638.3 1615.0,638.3 1618.6,621.3 1625.7,621.3 1637.1,626.4 1646.0,619.3 1653.7,618.0 1663.8,614.2 1679.1,603.5 1689.3,605.3 1695.6,613.4 1704.5,609.1 1712.1,609.8 1722.3,620.5 1732.5,628.7 1743.4,620.0" fill="none" stroke="#ff0000" stroke-width="1" stroke-linejoin="round" shape-rendering="crispEdges"/>
<polyline points="15.8,725.0 21.6,739.5 28.0,745.9 38.1,740.8 45.8,728.1 54.7,703.9 61.0,693.7 66.1,696.3 72.5,712.8 80.1,737.0 87.7,748.4 94.1,744.6 101.7,734.4 113.1,740.8 119.5,737.0 129.7,711.5 136.0,698.3 142.4,706.5 150.0,733.2 156.4,742.1 164.0,734.4 172.9,706.5 178.0,693.7 184.3,689.4 190.7,693.7 195.8,706.5 203.4,731.9 209.8,747.6 216.1,740.8 223.7,715.4 231.4,695.0 239.0,691.2 250.4,689.4 255.5,692.5 260.6,702.6 268.2,729.3 277.1,747.1 284.8,735.7 293.7,706.5 300.0,695.8 303.8,697.6 310.2,715.4 317.8,737.0 324.2,747.1 330.5,744.6 338.2,730.6 345.8,710.3 350.9,703.9 356.0,707.7 363.6,726.8 372.5,742.1 378.8,746.6 383.9,747.1 390.3,751.5 399.2,744.6 406.8,723.0 415.7,706.5 422.1,709.0 429.7,724.3 437.3,731.9 445.0,726.8 453.9,723.7 460.2,731.9 467.8,737.0 472.9,735.7 480.0,714.1 486.4,700.1 491.4,700.1 496.5,706.5 501.6,708.5 508.0,705.2 515.6,697.0 522.0,694.2 533.4,698.8 541.0,695.8 547.4,694.2 552.5,698.8 558.8,715.4 567.7,740.8 577.9,750.4 589.3,753.0 599.5,749.7 609.7,743.3 617.3,730.6 627.5,715.9 632.6,717.9 640.2,733.2 647.8,742.1 655.4,734.4 663.1,728.6 673.2,729.3 680.9,725.0 688.5,710.3 696.1,693.7 703.7,689.2 708.8,689.2 716.5,698.8 724.1,720.4 731.7,738.2 736.8,743.3 747.0,743.3 757.1,742.8 767.3,747.1 774.9,738.2 782.6,725.5 788.9,721.2 795.3,724.3 804.2,731.9 810.5,725.5 819.4,710.3 828.3,697.6 833.4,695.8 838.5,697.6 848.7,712.8 858.8,728.1 866.5,743.3 870.3,745.9 875.4,744.6 881.7,730.6 891.9,703.9 898.3,695.0 904.6,691.2 911.0,696.3 917.3,712.8 923.7,735.7 930.0,744.6 935.1,747.6 942.8,744.6 952.9,737.0 955.0,735.7 960.1,733.2 967.7,739.5 976.6,747.1 983.0,743.3 990.6,725.5 1000.8,707.7 1005.9,710.3 1010.9,720.4 1017.3,734.4 1026.2,740.3 1033.8,733.2 1044.0,725.5 1056.7,728.1 1064.3,719.2 1074.5,693.7 1082.1,687.9 1092.3,687.4 1102.5,689.2 1117.7,688.7 1130.4,690.4 1138.1,695.0 1145.7,715.4 1154.6,732.6 1160.9,726.8 1171.1,700.1 1178.7,689.9 1183.8,688.7 1188.9,691.2 1196.5,710.3 1206.7,735.7 1214.3,745.9 1220.7,745.9 1227.1,739.5 1234.7,731.9 1242.3,730.6 1249.9,734.4 1260.1,737.0 1269.0,738.7 1279.2,723.0 1284.3,721.2 1295.7,726.8 1304.6,720.4 1316.0,720.4 1326.2,705.2 1333.8,696.3 1338.9,697.6 1344.0,712.8 1350.4,730.6 1355.5,738.7 1360.5,734.4 1369.4,712.8 1375.8,706.5 1386.0,710.3 1393.6,705.2 1400.0,695.0 1407.6,689.2 1415.2,689.9 1425.4,691.2 1434.3,688.7 1435.0,687.5 1445.4,690.1 1458.4,700.5 1468.8,716.1 1479.2,735.6 1485.7,744.7 1494.8,750.6 1502.6,747.8 1510.4,746.0 1518.2,736.9 1526.0,720.0 1531.7,713.5 1537.7,720.0 1546.7,735.6 1553.2,745.4 1562.3,751.2 1567.5,752.5 1575.3,748.6 1583.1,743.4 1593.5,745.4 1603.9,746.5 1614.3,748.6 1620.8,742.1 1627.3,725.2 1633.8,707.0 1640.3,710.9 1646.8,720.0 1652.0,722.0 1658.5,712.2 1668.9,695.3 1679.3,686.2 1688.4,690.1 1694.9,701.8 1702.7,720.0 1709.2,730.4 1720.9,733.7 1728.7,744.7 1737.8,753.8 1743.7,750.6" fill="none" stroke="#ff3c0a" stroke-width="1" stroke-linejoin="round" shape-rendering="crispEdges"/>
<polyline points="15.8,740.8 17.8,744.6 28.0,746.6 35.6,738.2 39.4,736.2 45.8,712.8 55.4,688.7 61.0,692.5 67.4,707.7 76.3,745.4 82.6,752.2 89.0,742.1 98.7,729.3 104.2,738.2 109.3,745.4 117.0,734.4 124.6,707.7 130.2,694.5 136.0,697.6 146.2,739.5 152.6,749.2 162.7,720.4 167.8,697.6 172.9,689.9 179.3,687.4 185.6,695.0 193.2,717.9 200.9,745.9 206.5,754.8 216.1,723.0 223.7,696.3 230.1,690.4 239.0,690.4 245.4,688.1 250.4,689.4 256.8,707.7 264.4,738.2 271.5,752.2 279.7,740.8 287.3,710.3 292.9,689.4 298.8,695.0 305.1,707.7 312.7,738.2 319.6,749.7 330.5,743.3 338.2,720.4 347.1,698.8 352.1,703.9 358.5,723.0 367.9,745.9 372.5,743.3 378.8,749.2 383.9,749.7 390.3,753.5 395.4,745.9 404.3,712.8 411.9,698.8 419.5,715.4 427.2,732.6 437.3,733.2 443.7,719.2 455.1,726.8 459.7,746.4 467.8,730.6 475.5,710.3 480.0,700.1 480.0,696.3 487.6,700.1 497.3,712.8 505.4,703.9 513.1,692.5 519.4,692.5 529.6,700.1 534.7,698.8 541.0,690.4 546.1,692.5 551.2,703.9 556.3,728.1 566.4,748.4 572.8,750.4 579.2,755.3 586.8,752.2 594.4,747.6 599.5,749.7 607.1,742.1 614.8,724.3 621.6,710.8 628.7,715.4 637.6,740.8 643.2,747.1 649.1,734.4 654.2,728.6 663.1,728.1 670.7,731.4 675.8,726.8 682.1,712.8 687.2,696.3 691.5,687.4 698.7,689.9 707.6,688.7 712.6,701.4 719.0,724.3 725.4,739.5 734.3,745.9 739.3,744.6 745.7,739.5 753.3,743.3 761.0,749.2 767.3,745.9 772.4,731.9 783.1,717.9 790.2,724.3 799.6,737.0 806.7,724.3 815.6,703.9 822.0,698.8 827.1,693.2 832.1,693.2 841.0,711.5 848.7,720.4 857.6,738.2 864.4,752.2 872.8,737.0 880.5,711.5 890.6,692.0 902.1,688.7 907.2,695.0 913.5,710.3 918.6,735.7 923.7,747.1 928.8,750.4 935.1,744.6 940.2,744.6 949.1,734.4 955.0,730.6 955.0,730.6 960.1,735.7 966.4,745.9 976.6,749.2 983.0,738.2 988.1,717.9 993.1,703.9 998.7,702.6 1002.0,712.8 1005.9,725.5 1009.7,730.6 1015.5,745.9 1021.1,737.0 1026.2,734.4 1033.8,726.8 1041.4,723.0 1046.5,726.8 1053.7,731.4 1059.2,720.4 1066.9,695.0 1072.0,688.7 1077.0,687.4 1084.7,686.1 1092.3,688.7 1101.2,689.9 1112.6,689.2 1117.7,686.1 1124.1,691.2 1130.4,691.2 1135.5,695.0 1140.6,712.8 1145.7,730.6 1150.3,737.7 1155.9,725.5 1166.0,697.6 1173.7,687.9 1177.5,685.4 1183.8,692.5 1188.9,697.6 1194.0,717.9 1202.9,740.8 1210.0,749.2 1216.9,744.6 1225.8,733.2 1231.6,727.6 1234.7,730.1 1242.3,731.4 1247.4,738.2 1252.5,732.6 1258.8,738.2 1263.9,742.1 1270.3,730.6 1279.2,713.6 1285.5,729.3 1295.7,724.3 1300.8,716.6 1305.9,723.0 1313.5,721.7 1321.1,705.2 1328.3,690.4 1333.8,693.7 1338.9,707.7 1344.0,728.1 1349.6,744.1 1355.5,740.8 1361.8,717.9 1371.5,701.4 1375.8,710.3 1382.2,712.3 1391.1,705.2 1398.7,688.7 1405.0,687.4 1410.1,688.7 1415.2,692.0 1420.3,692.0 1425.4,688.7 1430.5,686.1 1434.3,686.1 1435.0,686.2 1445.4,691.4 1455.8,701.8 1463.6,716.1 1474.0,735.6 1484.4,752.5 1490.9,749.1 1500.0,745.4 1509.1,745.4 1515.6,730.4 1522.1,711.7 1528.0,709.6 1533.8,720.0 1539.0,731.7 1546.7,744.7 1553.2,750.6 1559.7,751.2 1564.9,753.2 1570.1,749.1 1576.6,740.8 1580.5,740.2 1590.9,746.0 1601.3,745.4 1609.1,749.9 1614.3,751.2 1619.5,729.1 1629.9,696.6 1635.1,712.2 1641.6,723.9 1646.8,725.2 1653.3,714.8 1661.1,696.6 1668.9,687.5 1678.0,685.4 1684.5,690.1 1691.0,700.5 1696.2,720.0 1705.3,736.9 1711.3,726.5 1718.3,735.6 1724.8,748.6 1730.0,754.5 1736.5,754.5 1743.7,742.8" fill="none" stroke="#1e9bfa" stroke-width="1" stroke-linejoin="round" shape-rendering="crispEdges"/>
<polyline points="15.5,808.4 30.1,810.1 50.1,811.9 70.2,811.4 90.2,812.6 110.3,814.4 130.3,814.4 145.4,815.6 160.4,815.6 175.5,812.6 190.5,808.9 205.5,807.1 218.1,806.4 230.6,803.9 243.1,801.4 258.2,797.6 275.7,797.1 293.3,795.6 308.3,795.6 318.3,797.6 333.4,803.1 350.9,807.6 366.0,811.4 381.0,817.1 396.0,823.9 411.1,827.7 426.1,830.2 441.1,831.4 456.2,832.7 471.2,832.7 480.0,831.4 500.1,826.4 520.1,821.4 537.7,816.4 555.2,812.1 572.7,811.4 590.3,815.6 610.3,821.4 630.4,825.2 640.4,827.7 655.5,829.4 675.5,829.4 690.5,827.2 705.6,823.4 720.6,818.9 735.7,816.4 750.7,815.1 765.7,817.1 785.8,818.9 803.3,820.9 815.9,820.2 830.9,817.7 851.0,815.6 866.0,815.6 876.0,816.4 896.1,815.1 916.1,812.6 936.2,812.1 953.7,812.1 955.0,812.1 980.1,814.6 1005.1,815.6 1025.2,818.2 1045.2,820.2 1060.3,820.2 1075.3,818.9 1095.4,813.9 1115.4,806.4 1135.5,798.9 1155.5,795.6 1175.6,792.6 1195.6,790.1 1210.7,790.6 1230.7,793.3 1250.8,797.1 1270.8,800.9 1288.4,804.6 1305.9,807.1 1326.0,808.4 1351.0,808.4" fill="none" stroke="#1ec8ff" stroke-width="1" stroke-linejoin="round" shape-rendering="crispEdges"/>
<polyline points="1391.1,808.4 1406.2,806.4 1421.2,803.1 1435.0,801.4 1435.0,802.6 1450.6,799.2 1466.2,797.4 1481.8,797.4 1497.4,798.7 1513.0,801.3 1528.6,803.1 1544.1,805.7 1559.7,808.3 1575.3,811.7 1590.9,814.8 1603.9,818.2 1616.9,822.1 1632.5,823.4 1653.3,823.1 1668.9,821.3 1681.9,817.4 1694.9,814.8 1707.9,812.2 1723.5,811.7 1733.9,813.5 1743.7,815.6" fill="none" stroke="#1ec8ff" stroke-width="1" stroke-linejoin="round" shape-rendering="crispEdges"/>
<polyline points="15.5,808.9 30.1,811.4 42.6,813.4 57.7,811.9 70.2,811.4 85.2,813.9 100.3,814.6 110.3,816.4 122.8,816.4 130.3,813.9 142.9,814.6 150.4,816.4 160.4,815.6 170.4,809.6 180.5,805.9 193.0,803.9 203.0,806.4 213.1,806.4 225.6,800.6 240.6,797.1 253.2,793.1 265.7,795.1 278.2,796.3 293.3,793.1 305.8,794.3 315.8,798.9 325.8,808.9 335.9,809.6 348.4,811.4 360.9,818.2 381.0,825.2 394.8,832.7 408.6,831.4 416.1,833.4 436.1,833.4 448.7,832.2 461.2,834.4 471.2,832.2 480.0,828.9 495.0,823.2 510.1,818.9 525.1,815.1 540.2,810.1 551.4,808.4 565.2,810.1 580.3,816.4 595.3,822.2 610.3,827.2 625.4,828.9 637.9,831.4 660.5,831.4 675.5,828.9 690.5,822.7 708.1,815.6 723.1,813.4 745.7,813.4 755.7,815.1 768.3,819.4 785.8,820.2 799.6,822.2 815.9,820.2 828.4,815.6 840.9,813.9 853.5,813.4 866.0,816.4 881.0,814.6 893.6,813.9 906.1,810.9 916.1,810.1 931.2,811.9 943.7,813.4 953.7,813.4 955.0,813.4 975.1,816.4 1000.1,816.4 1020.2,820.2 1035.2,821.4 1055.3,822.2 1067.8,818.2 1085.3,811.4 1100.4,805.1 1115.4,798.9 1130.5,792.6 1140.5,792.1 1150.5,793.3 1165.5,791.3 1180.6,788.3 1193.1,788.3 1205.7,791.3 1220.7,794.6 1235.7,797.6 1250.8,802.1 1265.8,805.1 1280.8,807.1 1295.9,808.4 1308.4,810.1 1314.7,809.6 1331.0,808.9 1348.5,810.1 1356.0,809.4 1386.1,808.4 1393.6,806.4 1406.2,802.6 1418.7,801.4 1435.0,798.1 1435.0,798.5 1445.4,796.6 1458.4,795.3 1471.4,796.1 1481.8,797.4 1497.4,801.8 1513.0,804.4 1528.6,806.5 1544.1,808.3 1559.7,811.7 1575.3,814.8 1590.9,820.0 1603.9,823.9 1614.3,826.5 1624.7,824.7 1637.7,823.9 1653.3,822.1 1668.9,818.2 1681.9,813.0 1694.9,810.9 1707.9,810.1 1720.9,811.7 1728.7,814.8 1737.8,818.2 1743.7,818.2" fill="none" stroke="#e6e600" stroke-width="1" stroke-linejoin="round" shape-rendering="crispEdges"/>
<text x="10.3" y="18.6" font-size="14" fill="#000" font-weight="bold" text-anchor="start" textLength="126.7" lengthAdjust="spacingAndGlyphs" >Daily KSE 100 INX</text>
<text x="1909.2" y="18.6" font-size="14" fill="#cdcdcd" font-weight="normal" text-anchor="end" textLength="179" lengthAdjust="spacingAndGlyphs" >3/13/2017 - 7/20/2018 (KHI)</text>
<text x="24" y="41.7" font-size="14" fill="#ff0000" font-weight="normal" text-anchor="start" textLength="478" lengthAdjust="spacingAndGlyphs" >Cndl, KSE 100 INX, 6/27/2018, 41,281.45, 41,817.21, 41,281.45, 41,717.99,</text>
<text x="508.5" y="41.7" font-size="14" fill="#a0a0a0" font-weight="normal" text-anchor="start" textLength="54.3" lengthAdjust="spacingAndGlyphs" >N/A, N/A,</text>
<text x="571" y="41.7" font-size="14" fill="#0b3d3d" font-weight="normal" text-anchor="start" textLength="414" lengthAdjust="spacingAndGlyphs" >BBand, KSE 100 INX, 6/27/2018, 44,680.35, 42,855.13, 41,029.91</text>
<text x="24.2" y="565" font-size="14" fill="#ff0000" font-weight="normal" text-anchor="start" textLength="236.4" lengthAdjust="spacingAndGlyphs" >RSI, KSE 100 INX, 6/27/2018, 38.401,</text>
<text x="268.2" y="565" font-size="14" fill="#5a3cf0" font-weight="normal" text-anchor="start" textLength="268.8" lengthAdjust="spacingAndGlyphs" >EMA, RSI(KSE 100 INX), 6/27/2018, 39.376</text>
<text x="24.2" y="676" font-size="14" fill="#1e9bfa" font-weight="normal" text-anchor="start" textLength="260.6" lengthAdjust="spacingAndGlyphs" >StochS, KSE 100 INX, 6/27/2018, 18.591,</text>
<text x="288" y="676" font-size="14" fill="#ff3c0a" font-weight="normal" text-anchor="start" textLength="35" lengthAdjust="spacingAndGlyphs" >9.331</text>
<text x="23.8" y="781.7" font-size="14" fill="#e6e600" font-weight="normal" text-anchor="start" textLength="258.2" lengthAdjust="spacingAndGlyphs" >MACD, KSE 100 INX, 6/27/2018, -480.01,</text>
<text x="286.5" y="781.7" font-size="14" fill="#1ec8ff" font-weight="normal" text-anchor="start" textLength="48.1" lengthAdjust="spacingAndGlyphs" >-290.59</text>
<text x="1842.5" y="56.8" font-size="14" fill="#000" font-weight="bold" text-anchor="start" textLength="32.7" lengthAdjust="spacingAndGlyphs" >Price</text>
<text x="1841.8" y="76" font-size="14" fill="#000" font-weight="bold" text-anchor="start" textLength="28.5" lengthAdjust="spacingAndGlyphs" >PKR</text>
<g shape-rendering="crispEdges">
<rect x="1837" y="529" width="5" height="1" fill="#000" />
<rect x="1837" y="501" width="5" height="1" fill="#000" />
<rect x="1837" y="472" width="5" height="1" fill="#000" />
<rect x="1837" y="444" width="5" height="1" fill="#000" />
<rect x="1837" y="416" width="5" height="1" fill="#000" />
<rect x="1837" y="388" width="5" height="1" fill="#000" />
<rect x="1837" y="359" width="5" height="1" fill="#000" />
<rect x="1837" y="331" width="5" height="1" fill="#000" />
<rect x="1837" y="303" width="5" height="1" fill="#000" />
<rect x="1837" y="275" width="5" height="1" fill="#000" />
<rect x="1837" y="246" width="5" height="1" fill="#000" />
<rect x="1837" y="218" width="5" height="1" fill="#000" />
<rect x="1837" y="190" width="5" height="1" fill="#000" />
<rect x="1837" y="161" width="5" height="1" fill="#000" />
<rect x="1837" y="133" width="5" height="1" fill="#000" />
<rect x="1837" y="105" width="5" height="1" fill="#000" />
</g>
<text x="1844.4" y="506.64" font-size="14" fill="#000" font-weight="normal" text-anchor="start" textLength="43.2" lengthAdjust="spacingAndGlyphs" >38,000</text>
<text x="1844.4" y="478.37" font-size="14" fill="#000" font-weight="normal" text-anchor="start" textLength="43.2" lengthAdjust="spacingAndGlyphs" >39,000</text>
<text x="1844.4" y="450.1" font-size="14" fill="#000" font-weight="bold" text-anchor="start" textLength="49" lengthAdjust="spacingAndGlyphs" >40,000</text>
<text x="1844.4" y="393.56" font-size="14" fill="#000" font-weight="normal" text-anchor="start" textLength="43.2" lengthAdjust="spacingAndGlyphs" >42,000</text>
<text x="1844.4" y="337.02" font-size="14" fill="#000" font-weight="normal" text-anchor="start" textLength="43.2" lengthAdjust="spacingAndGlyphs" >44,000</text>
<text x="1844.4" y="308.75" font-size="14" fill="#000" font-weight="normal" text-anchor="start" textLength="43.2" lengthAdjust="spacingAndGlyphs" >45,000</text>
<text x="1844.4" y="280.48" font-size="14" fill="#000" font-weight="normal" text-anchor="start" textLength="43.2" lengthAdjust="spacingAndGlyphs" >46,000</text>
<text x="1844.4" y="252.21" font-size="14" fill="#000" font-weight="normal" text-anchor="start" textLength="43.2" lengthAdjust="spacingAndGlyphs" >47,000</text>
<text x="1844.4" y="223.94" font-size="14" fill="#000" font-weight="normal" text-anchor="start" textLength="43.2" lengthAdjust="spacingAndGlyphs" >48,000</text>
<text x="1844.4" y="195.67" font-size="14" fill="#000" font-weight="normal" text-anchor="start" textLength="43.2" lengthAdjust="spacingAndGlyphs" >49,000</text>
<text x="1844.4" y="167.4" font-size="14" fill="#000" font-weight="bold" text-anchor="start" textLength="49" lengthAdjust="spacingAndGlyphs" >50,000</text>
<text x="1844.4" y="139.13" font-size="14" fill="#000" font-weight="normal" text-anchor="start" textLength="43.2" lengthAdjust="spacingAndGlyphs" >51,000</text>
<text x="1844.4" y="110.86" font-size="14" fill="#000" font-weight="normal" text-anchor="start" textLength="43.2" lengthAdjust="spacingAndGlyphs" >52,000</text>
<rect x="1837" y="304" width="75" height="16" fill="#0b3d3d" shape-rendering="crispEdges" />
<text x="1837.6" y="317.7" font-size="14" fill="#fff" font-weight="normal" text-anchor="start" textLength="63" lengthAdjust="spacingAndGlyphs" >44,680.35</text>
<rect x="1837" y="357" width="75" height="16" fill="#0b3d3d" shape-rendering="crispEdges" />
<text x="1837.6" y="370.7" font-size="14" fill="#fff" font-weight="normal" text-anchor="start" textLength="63" lengthAdjust="spacingAndGlyphs" >42,855.13</text>
<rect x="1837" y="388" width="75" height="17" fill="#ff0000" shape-rendering="crispEdges" />
<text x="1837.6" y="402.2" font-size="14" fill="#000" font-weight="bold" text-anchor="start" textLength="70" lengthAdjust="spacingAndGlyphs" >41,717.99</text>
<rect x="1837" y="408" width="75" height="16" fill="#0b3d3d" shape-rendering="crispEdges" />
<text x="1837.6" y="421.7" font-size="14" fill="#fff" font-weight="normal" text-anchor="start" textLength="63" lengthAdjust="spacingAndGlyphs" >41,029.91</text>
<rect x="1843.5" y="530.5" width="35" height="16" fill="#fff" stroke="#000" stroke-width="1"/>
<text x="1845.3" y="543.5" font-size="14" fill="#000" font-weight="bold" text-anchor="start" textLength="32" lengthAdjust="spacingAndGlyphs" >Auto</text>
<text x="1842.5" y="579.5" font-size="14" fill="#c8c8c8" font-weight="bold" text-anchor="start" textLength="37.5" lengthAdjust="spacingAndGlyphs" >Value</text>
<text x="1841.8" y="598.5" font-size="14" fill="#c8c8c8" font-weight="bold" text-anchor="start" textLength="28.5" lengthAdjust="spacingAndGlyphs" >PKR</text>
<rect x="1837" y="595" width="75" height="17" fill="#5a3cff" shape-rendering="crispEdges" />
<text x="1837.6" y="609.2" font-size="14" fill="#000" font-weight="normal" text-anchor="start" textLength="43.5" lengthAdjust="spacingAndGlyphs" >39.376</text>
<rect x="1837" y="612" width="75" height="17" fill="#ff0000" shape-rendering="crispEdges" />
<text x="1837.6" y="626.2" font-size="14" fill="#000" font-weight="bold" text-anchor="start" textLength="48" lengthAdjust="spacingAndGlyphs" >38.401</text>
<rect x="1837" y="650" width="5" height="1" fill="#c8c8c8" shape-rendering="crispEdges"/>
<rect x="1843.5" y="641.5" width="35" height="16" fill="#fff" stroke="#c8c8c8" stroke-width="1"/>
<text x="1845.3" y="654.5" font-size="14" fill="#c8c8c8" font-weight="bold" text-anchor="start" textLength="32" lengthAdjust="spacingAndGlyphs" >Auto</text>
<text x="1842.5" y="691" font-size="14" fill="#c8c8c8" font-weight="bold" text-anchor="start" textLength="37.5" lengthAdjust="spacingAndGlyphs" >Value</text>
<text x="1841.8" y="710" font-size="14" fill="#c8c8c8" font-weight="bold" text-anchor="start" textLength="28.5" lengthAdjust="spacingAndGlyphs" >PKR</text>
<rect x="1837" y="719" width="5" height="1" fill="#c8c8c8" shape-rendering="crispEdges"/>
<text x="1844.4" y="729" font-size="14" fill="#c8c8c8" font-weight="normal" text-anchor="start" textLength="15" lengthAdjust="spacingAndGlyphs" >50</text>
<rect x="1837" y="736" width="75" height="17" fill="#1e96ff" shape-rendering="crispEdges" />
<text x="1837.6" y="750.2" font-size="14" fill="#000" font-weight="bold" text-anchor="start" textLength="48" lengthAdjust="spacingAndGlyphs" >18.591</text>
<g clip-path="url(#cs)">
<rect x="1837" y="753" width="75" height="17" fill="#ff3c00" shape-rendering="crispEdges" />
<text x="1837.6" y="767.2" font-size="14" fill="#000" font-weight="normal" text-anchor="start" textLength="36" lengthAdjust="spacingAndGlyphs" >9.331</text>
</g>
<text x="1842.5" y="797.5" font-size="14" fill="#c8c8c8" font-weight="bold" text-anchor="start" textLength="37.5" lengthAdjust="spacingAndGlyphs" >Value</text>
<rect x="1843.5" y="826.5" width="35" height="13" fill="#fff" stroke="#c8c8c8" stroke-width="1"/>
<text x="1845.3" y="837.5" font-size="14" fill="#c8c8c8" font-weight="bold" text-anchor="start" textLength="32" lengthAdjust="spacingAndGlyphs" >Auto</text>
<rect x="1837" y="793" width="75" height="17" fill="#1ec8ff" shape-rendering="crispEdges" />
<text x="1837.6" y="807.2" font-size="14" fill="#000" font-weight="normal" text-anchor="start" textLength="48" lengthAdjust="spacingAndGlyphs" >-290.59</text>
<rect x="1837" y="810" width="75" height="17" fill="#e6e600" shape-rendering="crispEdges" />
<text x="1837.6" y="824.2" font-size="14" fill="#000" font-weight="bold" text-anchor="start" textLength="54" lengthAdjust="spacingAndGlyphs" >-480.01</text>
<rect x="1882.5" y="28.5" width="12" height="12" rx="1.5" fill="#f2f3f5" stroke="#566688" stroke-width="1.3"/>
<rect x="1883.7" y="29.7" width="9.6" height="9.6" rx="0.8" fill="none" stroke="#b8cbe8" stroke-width="0.9"/>
<rect x="1884.4" y="37.3" width="8.2" height="1.6" fill="#c9ccd3"/>
<rect x="1886.1" y="32.4" width="4.9" height="3.2" fill="#8fb4e6" stroke="#364260" stroke-width="1.2"/>
<rect x="1897.5" y="28.5" width="12" height="12" rx="1.5" fill="#e8826e" stroke="#561626" stroke-width="1.4"/>
<path d="M1899.6 30.6 L1907.4 38.4 M1907.4 30.6 L1899.6 38.4" stroke="#8a6a68" stroke-width="3.6" fill="none"/>
<path d="M1899.6 30.6 L1907.4 38.4 M1907.4 30.6 L1899.6 38.4" stroke="#fff" stroke-width="2.5" fill="none"/>
<rect x="1882.5" y="551.5" width="12" height="12" rx="1.5" fill="#f2f3f5" stroke="#566688" stroke-width="1.3"/>
<rect x="1883.7" y="552.7" width="9.6" height="9.6" rx="0.8" fill="none" stroke="#b8cbe8" stroke-width="0.9"/>
<rect x="1884.4" y="560.3" width="8.2" height="1.6" fill="#c9ccd3"/>
<rect x="1886.1" y="555.4" width="4.9" height="3.2" fill="#8fb4e6" stroke="#364260" stroke-width="1.2"/>
<rect x="1897.5" y="551.5" width="12" height="12" rx="1.5" fill="#e8826e" stroke="#561626" stroke-width="1.4"/>
<path d="M1899.6 553.6 L1907.4 561.4 M1907.4 553.6 L1899.6 561.4" stroke="#8a6a68" stroke-width="3.6" fill="none"/>
<path d="M1899.6 553.6 L1907.4 561.4 M1907.4 553.6 L1899.6 561.4" stroke="#fff" stroke-width="2.5" fill="none"/>
<rect x="1882.5" y="662.5" width="12" height="12" rx="1.5" fill="#f2f3f5" stroke="#566688" stroke-width="1.3"/>
<rect x="1883.7" y="663.7" width="9.6" height="9.6" rx="0.8" fill="none" stroke="#b8cbe8" stroke-width="0.9"/>
<rect x="1884.4" y="671.3" width="8.2" height="1.6" fill="#c9ccd3"/>
<rect x="1886.1" y="666.4" width="4.9" height="3.2" fill="#8fb4e6" stroke="#364260" stroke-width="1.2"/>
<rect x="1897.5" y="662.5" width="12" height="12" rx="1.5" fill="#e8826e" stroke="#561626" stroke-width="1.4"/>
<path d="M1899.6 664.6 L1907.4 672.4 M1907.4 664.6 L1899.6 672.4" stroke="#8a6a68" stroke-width="3.6" fill="none"/>
<path d="M1899.6 664.6 L1907.4 672.4 M1907.4 664.6 L1899.6 672.4" stroke="#fff" stroke-width="2.5" fill="none"/>
<rect x="1882.5" y="769.0" width="12" height="12" rx="1.5" fill="#f2f3f5" stroke="#566688" stroke-width="1.3"/>
<rect x="1883.7" y="770.2" width="9.6" height="9.6" rx="0.8" fill="none" stroke="#b8cbe8" stroke-width="0.9"/>
<rect x="1884.4" y="777.8" width="8.2" height="1.6" fill="#c9ccd3"/>
<rect x="1886.1" y="772.9" width="4.9" height="3.2" fill="#8fb4e6" stroke="#364260" stroke-width="1.2"/>
<rect x="1897.5" y="769.0" width="12" height="12" rx="1.5" fill="#e8826e" stroke="#561626" stroke-width="1.4"/>
<path d="M1899.6 771.1 L1907.4 778.9 M1907.4 771.1 L1899.6 778.9" stroke="#8a6a68" stroke-width="3.6" fill="none"/>
<path d="M1899.6 771.1 L1907.4 778.9 M1907.4 771.1 L1899.6 778.9" stroke="#fff" stroke-width="2.5" fill="none"/>
<g shape-rendering="crispEdges">
<rect x="17" y="842" width="1" height="3" fill="#000" />
<rect x="44" y="842" width="1" height="3" fill="#000" />
<rect x="66" y="842" width="1" height="3" fill="#000" />
<rect x="93" y="842" width="1" height="3" fill="#000" />
<rect x="119" y="842" width="1" height="3" fill="#000" />
<rect x="146" y="842" width="1" height="3" fill="#000" />
<rect x="173" y="842" width="1" height="3" fill="#000" />
<rect x="200" y="842" width="1" height="3" fill="#000" />
<rect x="222" y="842" width="1" height="3" fill="#000" />
<rect x="249" y="842" width="1" height="3" fill="#000" />
<rect x="276" y="842" width="1" height="3" fill="#000" />
<rect x="303" y="842" width="1" height="3" fill="#000" />
<rect x="319" y="842" width="1" height="3" fill="#000" />
<rect x="330" y="842" width="1" height="3" fill="#000" />
<rect x="357" y="842" width="1" height="3" fill="#000" />
<rect x="384" y="842" width="1" height="3" fill="#000" />
<rect x="405" y="842" width="1" height="3" fill="#000" />
<rect x="416" y="842" width="1" height="3" fill="#000" />
<rect x="443" y="842" width="1" height="3" fill="#000" />
<rect x="470" y="842" width="1" height="3" fill="#000" />
<rect x="497" y="842" width="1" height="3" fill="#000" />
<rect x="524" y="842" width="1" height="3" fill="#000" />
<rect x="529" y="842" width="1" height="3" fill="#000" />
<rect x="551" y="842" width="1" height="3" fill="#000" />
<rect x="578" y="842" width="1" height="3" fill="#000" />
<rect x="600" y="842" width="1" height="3" fill="#000" />
<rect x="627" y="842" width="1" height="3" fill="#000" />
<rect x="648" y="842" width="1" height="3" fill="#000" />
<rect x="670" y="842" width="1" height="3" fill="#000" />
<rect x="697" y="842" width="1" height="3" fill="#000" />
<rect x="724" y="842" width="1" height="3" fill="#000" />
<rect x="751" y="842" width="1" height="3" fill="#000" />
<rect x="778" y="842" width="1" height="3" fill="#000" />
<rect x="805" y="842" width="1" height="3" fill="#000" />
<rect x="832" y="842" width="1" height="3" fill="#000" />
<rect x="859" y="842" width="1" height="3" fill="#000" />
<rect x="869" y="842" width="1" height="3" fill="#000" />
<rect x="886" y="842" width="1" height="3" fill="#000" />
<rect x="913" y="842" width="1" height="3" fill="#000" />
<rect x="939" y="842" width="1" height="3" fill="#000" />
<rect x="966" y="842" width="1" height="3" fill="#000" />
<rect x="988" y="842" width="1" height="3" fill="#000" />
<rect x="1015" y="842" width="1" height="3" fill="#000" />
<rect x="1042" y="842" width="1" height="3" fill="#000" />
<rect x="1069" y="842" width="1" height="3" fill="#000" />
<rect x="1091" y="842" width="1" height="3" fill="#000" />
<rect x="1118" y="842" width="1" height="3" fill="#000" />
<rect x="1144" y="842" width="1" height="3" fill="#000" />
<rect x="1171" y="842" width="1" height="3" fill="#000" />
<rect x="1198" y="842" width="1" height="3" fill="#000" />
<rect x="1215" y="842" width="1" height="3" fill="#000" />
<rect x="1225" y="842" width="1" height="3" fill="#000" />
<rect x="1247" y="842" width="1" height="3" fill="#000" />
<rect x="1274" y="842" width="1" height="3" fill="#000" />
<rect x="1301" y="842" width="1" height="3" fill="#000" />
<rect x="1317" y="842" width="1" height="3" fill="#000" />
<rect x="1328" y="842" width="1" height="3" fill="#000" />
<rect x="1355" y="842" width="1" height="3" fill="#000" />
<rect x="1382" y="842" width="1" height="3" fill="#000" />
<rect x="1403" y="842" width="1" height="3" fill="#000" />
<rect x="1429" y="842" width="1" height="3" fill="#000" />
<rect x="1457" y="842" width="1" height="3" fill="#000" />
<rect x="1484" y="842" width="1" height="3" fill="#000" />
<rect x="1511" y="842" width="1" height="3" fill="#000" />
<rect x="1538" y="842" width="1" height="3" fill="#000" />
<rect x="1544" y="842" width="1" height="3" fill="#000" />
<rect x="1560" y="842" width="1" height="3" fill="#000" />
<rect x="1587" y="842" width="1" height="3" fill="#000" />
<rect x="1614" y="842" width="1" height="3" fill="#000" />
<rect x="1641" y="842" width="1" height="3" fill="#000" />
<rect x="1662" y="842" width="1" height="3" fill="#000" />
<rect x="1668" y="842" width="1" height="3" fill="#000" />
<rect x="1689" y="842" width="1" height="3" fill="#000" />
<rect x="1711" y="842" width="1" height="3" fill="#000" />
<rect x="1733" y="842" width="1" height="3" fill="#000" />
<rect x="1759" y="842" width="1" height="3" fill="#000" />
<rect x="1786" y="842" width="1" height="3" fill="#000" />
<rect x="1813" y="842" width="1" height="3" fill="#000" />
<rect x="93" y="862" width="1" height="17" fill="#000" />
<rect x="200" y="862" width="1" height="17" fill="#000" />
<rect x="319" y="862" width="1" height="17" fill="#000" />
<rect x="416" y="862" width="1" height="17" fill="#000" />
<rect x="529" y="862" width="1" height="17" fill="#000" />
<rect x="648" y="862" width="1" height="17" fill="#000" />
<rect x="751" y="862" width="1" height="17" fill="#000" />
<rect x="869" y="862" width="1" height="17" fill="#000" />
<rect x="988" y="862" width="1" height="17" fill="#000" />
<rect x="1091" y="862" width="1" height="17" fill="#000" />
<rect x="1215" y="862" width="1" height="17" fill="#000" />
<rect x="1317" y="862" width="1" height="17" fill="#000" />
<rect x="1430" y="862" width="1" height="17" fill="#000" />
<rect x="1544" y="862" width="1" height="17" fill="#000" />
<rect x="1662" y="862" width="1" height="17" fill="#000" />
<rect x="1759" y="862" width="1" height="17" fill="#000" />
</g>
<text x="45.9" y="858.1" font-size="14" fill="#000" font-weight="normal" text-anchor="middle" textLength="15" lengthAdjust="spacingAndGlyphs" >20</text>
<text x="94.7" y="858.1" font-size="14" fill="#000" font-weight="normal" text-anchor="middle" textLength="15" lengthAdjust="spacingAndGlyphs" >03</text>
<text x="121" y="858.1" font-size="14" fill="#000" font-weight="normal" text-anchor="middle" textLength="15" lengthAdjust="spacingAndGlyphs" >10</text>
<text x="147.9" y="858.1" font-size="14" fill="#000" font-weight="normal" text-anchor="middle" textLength="15" lengthAdjust="spacingAndGlyphs" >17</text>
<text x="174.7" y="858.1" font-size="14" fill="#000" font-weight="normal" text-anchor="middle" textLength="15" lengthAdjust="spacingAndGlyphs" >24</text>
<text x="201.8" y="858.1" font-size="14" fill="#000" font-weight="normal" text-anchor="middle" textLength="15" lengthAdjust="spacingAndGlyphs" >02</text>
<text x="251" y="858.1" font-size="14" fill="#000" font-weight="normal" text-anchor="middle" textLength="15" lengthAdjust="spacingAndGlyphs" >15</text>
<text x="277.7" y="858.1" font-size="14" fill="#000" font-weight="normal" text-anchor="middle" textLength="15" lengthAdjust="spacingAndGlyphs" >22</text>
<text x="304.5" y="858.1" font-size="14" fill="#000" font-weight="normal" text-anchor="middle" textLength="15" lengthAdjust="spacingAndGlyphs" >29</text>
<text x="331.3" y="858.1" font-size="14" fill="#000" font-weight="normal" text-anchor="middle" textLength="15" lengthAdjust="spacingAndGlyphs" >05</text>
<text x="358.4" y="858.1" font-size="14" fill="#000" font-weight="normal" text-anchor="middle" textLength="15" lengthAdjust="spacingAndGlyphs" >12</text>
<text x="385.5" y="858.1" font-size="14" fill="#000" font-weight="normal" text-anchor="middle" textLength="15" lengthAdjust="spacingAndGlyphs" >19</text>
<text x="417.3" y="858.1" font-size="14" fill="#000" font-weight="normal" text-anchor="middle" textLength="15" lengthAdjust="spacingAndGlyphs" >03</text>
<text x="444.4" y="858.1" font-size="14" fill="#000" font-weight="normal" text-anchor="middle" textLength="15" lengthAdjust="spacingAndGlyphs" >10</text>
<text x="471.2" y="858.1" font-size="14" fill="#000" font-weight="normal" text-anchor="middle" textLength="15" lengthAdjust="spacingAndGlyphs" >17</text>
<text x="498.8" y="858.1" font-size="14" fill="#000" font-weight="normal" text-anchor="middle" textLength="15" lengthAdjust="spacingAndGlyphs" >24</text>
<text x="525.9" y="858.1" font-size="14" fill="#000" font-weight="normal" text-anchor="middle" textLength="15" lengthAdjust="spacingAndGlyphs" >31</text>
<text x="552.7" y="858.1" font-size="14" fill="#000" font-weight="normal" text-anchor="middle" textLength="15" lengthAdjust="spacingAndGlyphs" >07</text>
<text x="580.3" y="858.1" font-size="14" fill="#000" font-weight="normal" text-anchor="middle" textLength="15" lengthAdjust="spacingAndGlyphs" >15</text>
<text x="629.1" y="858.1" font-size="14" fill="#000" font-weight="normal" text-anchor="middle" textLength="15" lengthAdjust="spacingAndGlyphs" >28</text>
<text x="672.2" y="858.1" font-size="14" fill="#000" font-weight="normal" text-anchor="middle" textLength="15" lengthAdjust="spacingAndGlyphs" >11</text>
<text x="699.3" y="858.1" font-size="14" fill="#000" font-weight="normal" text-anchor="middle" textLength="15" lengthAdjust="spacingAndGlyphs" >18</text>
<text x="726.1" y="858.1" font-size="14" fill="#000" font-weight="normal" text-anchor="middle" textLength="15" lengthAdjust="spacingAndGlyphs" >25</text>
<text x="752.7" y="858.1" font-size="14" fill="#000" font-weight="normal" text-anchor="middle" textLength="15" lengthAdjust="spacingAndGlyphs" >02</text>
<text x="779.5" y="858.1" font-size="14" fill="#000" font-weight="normal" text-anchor="middle" textLength="15" lengthAdjust="spacingAndGlyphs" >09</text>
<text x="807" y="858.1" font-size="14" fill="#000" font-weight="normal" text-anchor="middle" textLength="15" lengthAdjust="spacingAndGlyphs" >16</text>
<text x="833.9" y="858.1" font-size="14" fill="#000" font-weight="normal" text-anchor="middle" textLength="15" lengthAdjust="spacingAndGlyphs" >23</text>
<text x="861" y="858.1" font-size="14" fill="#000" font-weight="normal" text-anchor="middle" textLength="15" lengthAdjust="spacingAndGlyphs" >30</text>
<text x="887.8" y="858.1" font-size="14" fill="#000" font-weight="normal" text-anchor="middle" textLength="15" lengthAdjust="spacingAndGlyphs" >06</text>
<text x="914.8" y="858.1" font-size="14" fill="#000" font-weight="normal" text-anchor="middle" textLength="15" lengthAdjust="spacingAndGlyphs" >13</text>
<text x="941.2" y="858.1" font-size="14" fill="#000" font-weight="normal" text-anchor="middle" textLength="15" lengthAdjust="spacingAndGlyphs" >20</text>
<text x="967.5" y="858.1" font-size="14" fill="#000" font-weight="normal" text-anchor="middle" textLength="15" lengthAdjust="spacingAndGlyphs" >27</text>
<text x="1016.4" y="858.1" font-size="14" fill="#000" font-weight="normal" text-anchor="middle" textLength="15" lengthAdjust="spacingAndGlyphs" >11</text>
<text x="1044" y="858.1" font-size="14" fill="#000" font-weight="normal" text-anchor="middle" textLength="15" lengthAdjust="spacingAndGlyphs" >18</text>
<text x="1070.8" y="858.1" font-size="14" fill="#000" font-weight="normal" text-anchor="middle" textLength="15" lengthAdjust="spacingAndGlyphs" >26</text>
<text x="1119.7" y="858.1" font-size="14" fill="#000" font-weight="normal" text-anchor="middle" textLength="15" lengthAdjust="spacingAndGlyphs" >08</text>
<text x="1146.2" y="858.1" font-size="14" fill="#000" font-weight="normal" text-anchor="middle" textLength="15" lengthAdjust="spacingAndGlyphs" >15</text>
<text x="1173" y="858.1" font-size="14" fill="#000" font-weight="normal" text-anchor="middle" textLength="15" lengthAdjust="spacingAndGlyphs" >22</text>
<text x="1199.9" y="858.1" font-size="14" fill="#000" font-weight="normal" text-anchor="middle" textLength="15" lengthAdjust="spacingAndGlyphs" >29</text>
<text x="1227" y="858.1" font-size="14" fill="#000" font-weight="normal" text-anchor="middle" textLength="15" lengthAdjust="spacingAndGlyphs" >06</text>
<text x="1276.3" y="858.1" font-size="14" fill="#000" font-weight="normal" text-anchor="middle" textLength="15" lengthAdjust="spacingAndGlyphs" >19</text>
<text x="1302.6" y="858.1" font-size="14" fill="#000" font-weight="normal" text-anchor="middle" textLength="15" lengthAdjust="spacingAndGlyphs" >26</text>
<text x="1329.7" y="858.1" font-size="14" fill="#000" font-weight="normal" text-anchor="middle" textLength="15" lengthAdjust="spacingAndGlyphs" >05</text>
<text x="1356.8" y="858.1" font-size="14" fill="#000" font-weight="normal" text-anchor="middle" textLength="15" lengthAdjust="spacingAndGlyphs" >12</text>
<text x="1384" y="858.1" font-size="14" fill="#000" font-weight="normal" text-anchor="middle" textLength="15" lengthAdjust="spacingAndGlyphs" >19</text>
<text x="1430" y="858.1" font-size="14" fill="#000" font-weight="normal" text-anchor="middle" textLength="15" lengthAdjust="spacingAndGlyphs" >02</text>
<text x="1459" y="858.1" font-size="14" fill="#000" font-weight="normal" text-anchor="middle" textLength="15" lengthAdjust="spacingAndGlyphs" >09</text>
<text x="1485.7" y="858.1" font-size="14" fill="#000" font-weight="normal" text-anchor="middle" textLength="15" lengthAdjust="spacingAndGlyphs" >16</text>
<text x="1513" y="858.1" font-size="14" fill="#000" font-weight="normal" text-anchor="middle" textLength="15" lengthAdjust="spacingAndGlyphs" >23</text>
<text x="1540" y="858.1" font-size="14" fill="#000" font-weight="normal" text-anchor="middle" textLength="15" lengthAdjust="spacingAndGlyphs" >30</text>
<text x="1589.6" y="858.1" font-size="14" fill="#000" font-weight="normal" text-anchor="middle" textLength="15" lengthAdjust="spacingAndGlyphs" >14</text>
<text x="1615" y="858.1" font-size="14" fill="#000" font-weight="normal" text-anchor="middle" textLength="15" lengthAdjust="spacingAndGlyphs" >21</text>
<text x="1643" y="858.1" font-size="14" fill="#000" font-weight="normal" text-anchor="middle" textLength="15" lengthAdjust="spacingAndGlyphs" >28</text>
<text x="1670" y="858.1" font-size="14" fill="#000" font-weight="normal" text-anchor="middle" textLength="15" lengthAdjust="spacingAndGlyphs" >04</text>
<text x="1712.5" y="858.1" font-size="14" fill="#000" font-weight="normal" text-anchor="middle" textLength="15" lengthAdjust="spacingAndGlyphs" >19</text>
<text x="1760.6" y="858.1" font-size="14" fill="#000" font-weight="normal" text-anchor="middle" textLength="15" lengthAdjust="spacingAndGlyphs" >02</text>
<text x="1787.6" y="858.1" font-size="14" fill="#000" font-weight="normal" text-anchor="middle" textLength="15" lengthAdjust="spacingAndGlyphs" >09</text>
<text x="1815" y="858.1" font-size="14" fill="#000" font-weight="normal" text-anchor="middle" textLength="15" lengthAdjust="spacingAndGlyphs" >16</text>
<text x="30.05" y="875" font-size="14" fill="#000" font-weight="bold" text-anchor="start" textLength="47.7" lengthAdjust="spacingAndGlyphs" >Mar 17</text>
<text x="111.45" y="875" font-size="14" fill="#000" font-weight="bold" text-anchor="start" textLength="69.5" lengthAdjust="spacingAndGlyphs" >April 2017</text>
<text x="225" y="875" font-size="14" fill="#000" font-weight="bold" text-anchor="start" textLength="67" lengthAdjust="spacingAndGlyphs" >May 2017</text>
<text x="330.8" y="875" font-size="14" fill="#000" font-weight="bold" text-anchor="start" textLength="72" lengthAdjust="spacingAndGlyphs" >June 2017</text>
<text x="438.6" y="875" font-size="14" fill="#000" font-weight="bold" text-anchor="start" textLength="66.4" lengthAdjust="spacingAndGlyphs" >July 2017</text>
<text x="543.2" y="875" font-size="14" fill="#000" font-weight="bold" text-anchor="start" textLength="88.8" lengthAdjust="spacingAndGlyphs" >August 2017</text>
<text x="675" y="875" font-size="14" fill="#000" font-weight="bold" text-anchor="start" textLength="47.4" lengthAdjust="spacingAndGlyphs" >Sep 17</text>
<text x="762.05" y="875" font-size="14" fill="#000" font-weight="bold" text-anchor="start" textLength="94.7" lengthAdjust="spacingAndGlyphs" >October 2017</text>
<text x="872.75" y="875" font-size="14" fill="#000" font-weight="bold" text-anchor="start" textLength="110.3" lengthAdjust="spacingAndGlyphs" >November 2017</text>
<text x="1016.45" y="875" font-size="14" fill="#000" font-weight="bold" text-anchor="start" textLength="45.9" lengthAdjust="spacingAndGlyphs" >Dec 17</text>
<text x="1104.6" y="875" font-size="14" fill="#000" font-weight="bold" text-anchor="start" textLength="94.8" lengthAdjust="spacingAndGlyphs" >January 2018</text>
<text x="1242.5" y="875" font-size="14" fill="#000" font-weight="bold" text-anchor="start" textLength="45.8" lengthAdjust="spacingAndGlyphs" >Feb 18</text>
<text x="1332.2" y="875" font-size="14" fill="#000" font-weight="bold" text-anchor="start" textLength="81.4" lengthAdjust="spacingAndGlyphs" >March 2018</text>
<text x="1450.6" y="875" font-size="14" fill="#000" font-weight="bold" text-anchor="start" textLength="71.4" lengthAdjust="spacingAndGlyphs" >April 2018</text>
<text x="1568.8" y="875" font-size="14" fill="#000" font-weight="bold" text-anchor="start" textLength="67.6" lengthAdjust="spacingAndGlyphs" >May 2018</text>
<text x="1673.6" y="875" font-size="14" fill="#000" font-weight="bold" text-anchor="start" textLength="73.2" lengthAdjust="spacingAndGlyphs" >June 2018</text>
<text x="1763.7" y="875" font-size="14" fill="#000" font-weight="bold" text-anchor="start" textLength="66.8" lengthAdjust="spacingAndGlyphs" >July 2018</text>
</svg></body></html>
